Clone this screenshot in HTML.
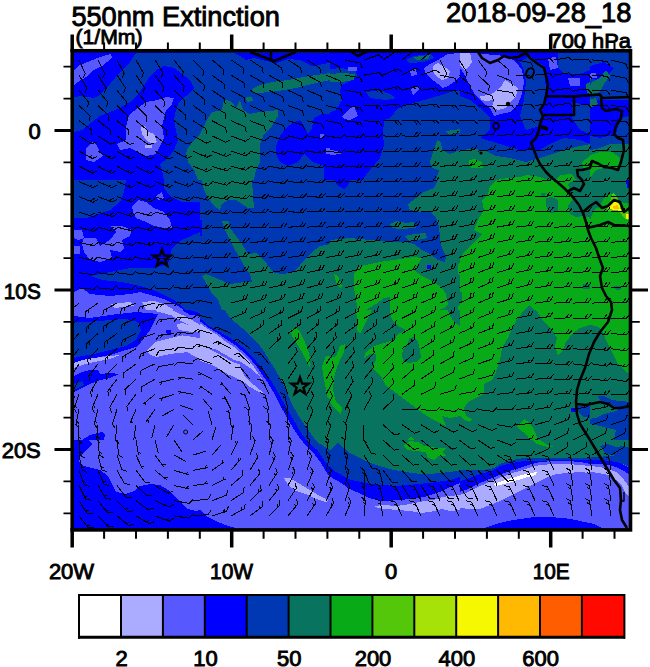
<!DOCTYPE html>
<html><head><meta charset="utf-8"><title>550nm Extinction</title>
<style>
html,body{margin:0;padding:0;background:#fff;}
body{width:650px;height:667px;overflow:hidden;}
svg{display:block;}
text{font-family:"Liberation Sans",sans-serif;fill:#000;stroke:#000;stroke-width:0.9px;}
</style></head><body>
<svg width="650" height="667" viewBox="0 0 650 667">
<rect width="650" height="667" fill="#fff"/>
<defs><clipPath id="mapclip"><rect x="72.2" y="50.75" width="558.3" height="478.85"/></clipPath></defs>
<g clip-path="url(#mapclip)" shape-rendering="crispEdges">
<rect x="70" y="48" width="565" height="485" fill="#0000ff"/>
<clipPath id="t0"><rect x="70" y="50" width="130" height="130"/></clipPath>
<g clip-path="url(#t0)">
<rect x="70" y="50" width="130" height="130" fill="#0000ff"/>
<polygon points="74.0,97.0 82.0,96.0 94.0,98.0 100.0,95.0 110.0,84.0 120.0,72.0 130.0,62.0 136.0,53.0 200.0,53.0 200.0,92.0 194.0,88.0 190.0,80.0 182.0,74.0 174.0,68.0 164.0,66.0 156.0,70.0 150.0,76.0 144.0,86.0 138.0,94.0 130.0,102.0 120.0,108.0 110.0,112.0 100.0,116.0 92.0,122.0 82.0,130.0 74.0,132.0" fill="#0038b4"/>
<polygon points="176.0,110.0 179.0,102.0 186.0,96.0 194.0,88.0 200.0,90.0 200.0,180.0 164.0,180.0 162.0,170.0 160.0,164.0 168.0,158.0 174.0,150.0 178.0,140.0 176.0,130.0 174.0,120.0" fill="#0038b4"/>
<polygon points="130.0,114.0 138.0,108.0 146.0,102.0 158.0,100.0 166.0,97.0 174.0,98.0 172.0,104.0 166.0,110.0 164.0,118.0 162.0,126.0 164.0,138.0 160.0,146.0 156.0,154.0 146.0,156.0 138.0,152.0 130.0,148.0 120.0,150.0 117.0,144.0 126.0,140.0 126.0,130.0 127.0,120.0" fill="#5858ff"/>
<polygon points="86.0,148.0 92.0,142.0 96.0,144.0 100.0,152.0 103.0,156.0 94.0,162.0 86.0,160.0" fill="#5858ff"/>
<polygon points="74.0,70.0 80.0,65.0 90.0,61.0 100.0,57.0 111.0,54.0 112.0,58.0 102.0,66.0 92.0,71.0 86.0,77.0 78.0,82.0 74.0,85.0" fill="#5858ff"/>
<polygon points="141.0,127.0 145.0,126.0 148.0,132.0 154.0,134.0 157.0,142.0 152.0,144.0 146.0,140.0 142.0,134.0" fill="#ababff"/>
<polygon points="145.0,145.0 152.0,145.0 152.0,148.0 145.0,148.0" fill="#ababff"/>
<polygon points="200.0,134.0 194.0,140.0 188.0,148.0 186.0,154.0 188.0,162.0 194.0,170.0 198.0,180.0 200.0,180.0" fill="#08745f"/>
</g>
<clipPath id="t1"><rect x="200" y="50" width="130" height="130"/></clipPath>
<g clip-path="url(#t1)">
<rect x="200" y="50" width="130" height="130" fill="#0038b4"/>
<polygon points="200.0,134.0 204.0,126.0 208.0,118.0 212.0,112.0 222.0,110.0 224.0,99.0 232.0,102.0 236.0,108.0 240.0,100.0 243.0,110.0 250.0,114.0 260.0,112.0 278.0,110.0 278.0,116.0 272.0,126.0 264.0,134.0 260.0,144.0 260.0,162.0 256.0,170.0 254.0,180.0 200.0,180.0" fill="#08745f"/>
<polygon points="252.0,89.0 260.0,85.0 272.0,82.0 288.0,80.0 304.0,77.0 316.0,75.0 330.0,73.0 330.0,80.0 320.0,82.0 308.0,85.0 296.0,88.0 284.0,90.0 270.0,92.0 258.0,93.0 252.0,92.0" fill="#08745f"/>
<polygon points="246.0,97.0 252.0,97.0 253.0,101.0 247.0,102.0" fill="#08745f"/>
<polygon points="276.0,146.0 280.0,136.0 286.0,128.0 294.0,122.0 300.0,120.0 304.0,126.0 308.0,134.0 312.0,128.0 314.0,118.0 322.0,114.0 330.0,114.0 330.0,180.0 324.0,180.0 324.0,166.0 312.0,162.0 304.0,154.0 298.0,162.0 288.0,166.0 280.0,162.0 276.0,154.0" fill="#0000ff"/>
<polygon points="234.0,53.0 330.0,53.0 330.0,62.0 324.0,64.0 312.0,66.0 300.0,60.0 288.0,59.0 276.0,63.0 266.0,61.0 254.0,58.0 246.0,60.0 240.0,56.0" fill="#0000ff"/>
<polygon points="320.0,134.0 324.0,134.0 324.0,138.0 320.0,138.0" fill="#5858ff"/>
<polygon points="326.0,148.0 330.0,148.0 330.0,154.0 326.0,154.0" fill="#5858ff"/>
</g>
<clipPath id="t2"><rect x="330" y="50" width="130" height="130"/></clipPath>
<g clip-path="url(#t2)">
<rect x="330" y="50" width="130" height="130" fill="#0000ff"/>
<polygon points="384.0,120.0 390.0,118.0 398.0,108.0 410.0,104.0 424.0,100.0 438.0,96.0 450.0,92.0 460.0,90.0 460.0,180.0 362.0,180.0 370.0,170.0 380.0,158.0 384.0,146.0 383.0,134.0" fill="#0038b4"/>
<polygon points="330.0,69.0 342.0,68.0 356.0,71.0 357.0,77.0 350.0,81.0 342.0,85.0 340.0,90.0 342.0,100.0 336.0,110.0 330.0,112.0" fill="#0038b4"/>
<polygon points="330.0,74.0 342.0,73.0 355.0,74.0 354.0,80.0 342.0,82.0 330.0,82.0" fill="#08745f"/>
<polygon points="366.0,92.0 380.0,90.0 390.0,94.0 396.0,98.0 386.0,100.0 370.0,98.0" fill="#0038b4"/>
<polygon points="406.0,60.0 414.0,56.0 430.0,54.0 434.0,58.0 424.0,62.0 410.0,63.0" fill="#0038b4"/>
<polygon points="414.0,57.0 430.0,55.0 428.0,59.0 416.0,60.0" fill="#08745f"/>
<polygon points="424.0,68.0 430.0,64.0 438.0,60.0 448.0,54.0 460.0,53.0 460.0,76.0 454.0,82.0 448.0,86.0 442.0,88.0 438.0,84.0 430.0,78.0 426.0,74.0" fill="#5858ff"/>
<polygon points="433.0,66.0 438.0,63.0 446.0,68.0 450.0,72.0 448.0,78.0 442.0,80.0 436.0,76.0 433.0,71.0" fill="#ababff"/>
<polygon points="342.0,116.0 348.0,110.0 354.0,106.0 358.0,116.0 350.0,120.0 344.0,119.0" fill="#5858ff"/>
<polygon points="348.0,67.0 357.0,67.0 357.0,71.0 348.0,71.0" fill="#5858ff"/>
<polygon points="410.0,70.0 416.0,69.0 417.0,75.0 411.0,76.0" fill="#5858ff"/>
<polygon points="411.0,89.0 418.0,86.0 419.0,90.0 413.0,95.0" fill="#5858ff"/>
<polygon points="330.0,150.0 338.0,151.0 342.0,154.0 330.0,155.0" fill="#5858ff"/>
<polygon points="430.0,162.0 434.0,150.0 437.0,140.0 441.0,142.0 442.0,150.0 450.0,154.0 460.0,150.0 460.0,180.0 436.0,180.0 439.0,170.0 432.0,168.0" fill="#08745f"/>
<polygon points="446.0,131.0 460.0,129.0 460.0,133.0 448.0,134.0" fill="#08745f"/>
</g>
<clipPath id="t3"><rect x="460" y="50" width="130" height="130"/></clipPath>
<g clip-path="url(#t3)">
<rect x="460" y="50" width="130" height="130" fill="#0000ff"/>
<polygon points="520.0,62.0 530.0,56.0 544.0,66.0 546.0,90.0 542.0,110.0 540.0,126.0 526.0,130.0 520.0,116.0 524.0,100.0 526.0,82.0 524.0,70.0" fill="#0038b4"/>
<polygon points="460.0,96.0 470.0,100.0 480.0,108.0 490.0,118.0 490.0,130.0 480.0,138.0 460.0,138.0" fill="#0038b4"/>
<polygon points="460.0,138.0 480.0,138.0 500.0,144.0 520.0,150.0 540.0,150.0 550.0,144.0 564.0,138.0 580.0,140.0 590.0,144.0 590.0,162.0 460.0,162.0" fill="#0038b4"/>
<polygon points="558.0,53.0 590.0,53.0 590.0,70.0 580.0,74.0 564.0,74.0 558.0,68.0" fill="#0038b4"/>
<polygon points="572.0,102.0 590.0,106.0 590.0,134.0 580.0,130.0 572.0,118.0" fill="#0038b4"/>
<polygon points="460.0,53.0 472.0,53.0 506.0,56.0 516.0,62.0 522.0,70.0 524.0,82.0 522.0,94.0 518.0,104.0 510.0,112.0 500.0,114.0 494.0,116.0 490.0,108.0 482.0,102.0 476.0,96.0 470.0,86.0 464.0,74.0 460.0,68.0" fill="#5858ff"/>
<polygon points="480.0,96.0 490.0,95.0 500.0,88.0 505.0,80.0 512.0,84.0 518.0,88.0 516.0,96.0 510.0,102.0 506.0,108.0 498.0,110.0 492.0,107.0 494.0,100.0 486.0,101.0 481.0,100.0" fill="#ababff"/>
<polygon points="460.0,53.0 470.0,53.0 472.0,62.0 468.0,68.0 464.0,70.0 460.0,66.0" fill="#ababff"/>
<polygon points="548.0,58.0 556.0,57.0 558.0,68.0 550.0,70.0" fill="#5858ff"/>
<polygon points="568.0,78.0 580.0,78.0 580.0,86.0 570.0,86.0" fill="#5858ff"/>
<polygon points="460.0,150.0 472.0,149.0 484.0,150.0 496.0,156.0 510.0,158.0 526.0,162.0 540.0,158.0 552.0,154.0 564.0,150.0 580.0,146.0 590.0,144.0 590.0,180.0 460.0,180.0" fill="#08745f"/>
<polygon points="586.0,84.0 590.0,82.0 590.0,94.0 587.0,93.0" fill="#08745f"/>
<polygon points="469.0,160.0 475.0,159.0 482.0,162.0 483.0,168.0 472.0,168.4 469.0,166.0" fill="#09aa18"/>
<polygon points="498.0,180.0 500.0,179.0 520.0,177.0 526.0,175.0 540.0,177.0 548.0,180.0" fill="#09aa18"/>
<polygon points="582.0,162.0 590.0,156.0 590.0,168.0 584.0,170.0" fill="#09aa18"/>
<polygon points="556.0,180.0 560.0,175.0 572.0,174.0 576.0,180.0" fill="#09aa18"/>
</g>
<clipPath id="t4"><rect x="590" y="50" width="45" height="130"/></clipPath>
<g clip-path="url(#t4)">
<rect x="590" y="50" width="45" height="130" fill="#0038b4"/>
<polygon points="590.0,66.0 604.0,62.0 614.0,68.0 606.0,76.0 596.0,80.0 590.0,78.0" fill="#0000ff"/>
<polygon points="590.0,100.0 629.0,100.0 629.0,116.0 620.0,118.0 616.0,134.0 600.0,138.0 590.0,136.0" fill="#0000ff"/>
<polygon points="588.0,90.0 592.0,82.0 600.0,78.0 606.0,70.0 610.0,76.0 604.0,84.0 600.0,92.0 592.0,94.0" fill="#08745f"/>
<polygon points="588.0,100.0 596.0,98.0 598.0,104.0 590.0,108.0" fill="#08745f"/>
<polygon points="590.0,150.0 600.0,148.0 610.0,144.0 632.0,144.0 632.0,180.0 590.0,180.0" fill="#08745f"/>
<polygon points="582.0,164.0 588.0,156.0 600.0,152.0 612.0,152.0 620.0,158.0 620.0,166.0 614.0,170.0 604.0,168.0 596.0,170.0 590.0,178.0 584.0,180.0 580.0,174.0" fill="#09aa18"/>
<polygon points="586.0,74.0 596.0,73.0 597.0,78.0 587.0,79.0" fill="#5858ff"/>
</g>
<clipPath id="t5"><rect x="70" y="180" width="130" height="130"/></clipPath>
<g clip-path="url(#t5)">
<rect x="70" y="180" width="130" height="130" fill="#0000ff"/>
<polygon points="74.0,180.0 126.0,180.0 124.0,192.0 120.0,202.0 110.0,210.0 98.0,214.0 86.0,218.0 74.0,218.0" fill="#0038b4"/>
<polygon points="164.0,180.0 200.0,180.0 200.0,202.0 182.0,202.0 170.0,196.0 164.0,188.0" fill="#0038b4"/>
<polygon points="200.0,232.0 182.0,240.0 172.0,248.0 168.0,264.0 154.0,268.0 130.0,268.0 110.0,272.0 90.0,276.0 102.0,280.0 122.0,282.0 140.0,286.0 158.0,292.0 174.0,300.0 186.0,310.0 200.0,310.0" fill="#0038b4"/>
<polygon points="132.0,206.0 138.0,200.0 146.0,202.0 154.0,208.0 164.0,212.0 170.0,220.0 172.0,228.0 164.0,228.0 154.0,226.0 146.0,222.0 136.0,218.0 133.0,212.0" fill="#5858ff"/>
<polygon points="156.0,196.0 162.0,192.0 164.0,198.0 158.0,200.0" fill="#5858ff"/>
<polygon points="74.0,230.0 82.0,230.0 84.0,238.0 78.0,240.0 74.0,238.0" fill="#5858ff"/>
<polygon points="84.0,238.0 96.0,238.0 100.0,246.0 110.0,240.0 116.0,232.0 110.0,226.0 122.0,226.0 132.0,230.0 130.0,236.0 122.0,240.0 124.0,248.0 120.0,252.0 110.0,250.0 112.0,258.0 100.0,262.0 90.0,260.0 84.0,252.0 82.0,244.0" fill="#5858ff"/>
<polygon points="74.0,246.0 80.0,246.0 80.0,254.0 74.0,254.0" fill="#5858ff"/>
<polygon points="74.0,292.0 82.0,288.0 90.0,294.0 110.0,296.0 130.0,294.0 140.0,292.0 154.0,296.0 166.0,300.0 178.0,306.0 184.0,310.0 74.0,310.0" fill="#5858ff"/>
<polygon points="110.0,304.0 130.0,302.0 134.0,306.0 114.0,308.0" fill="#ababff"/>
<polygon points="142.0,302.0 154.0,301.0 166.0,305.0 174.0,310.0 146.0,310.0" fill="#ababff"/>
</g>
<clipPath id="t6"><rect x="200" y="180" width="130" height="130"/></clipPath>
<g clip-path="url(#t6)">
<rect x="200" y="180" width="130" height="130" fill="#0038b4"/>
<polygon points="202.0,180.0 252.0,180.0 253.0,196.0 254.0,208.0 248.0,208.0 242.0,204.0 236.0,200.0 228.0,200.0 222.0,204.0 220.0,210.0 214.0,206.0 208.0,198.0 204.0,190.0" fill="#08745f"/>
<polygon points="222.0,221.0 229.0,221.0 230.0,228.0 236.0,236.0 242.0,244.0 248.0,254.0 256.0,253.0 264.0,260.0 270.0,268.0 274.0,273.0 284.0,274.0 296.0,270.0 304.0,260.0 312.0,252.0 320.0,246.0 330.0,244.0 330.0,310.0 222.0,310.0 218.0,300.0 212.0,294.0 208.0,286.0 202.0,276.0 206.0,274.0 216.0,278.0 230.0,284.0 244.0,282.0 252.0,282.0 250.0,274.0 244.0,266.0 240.0,258.0 234.0,248.0 228.0,236.0 224.0,228.0" fill="#08745f"/>
<polygon points="200.0,220.0 202.0,220.0 202.0,236.0 200.0,236.0" fill="#0000ff"/>
</g>
<clipPath id="t7"><rect x="330" y="180" width="130" height="130"/></clipPath>
<g clip-path="url(#t7)">
<rect x="330" y="180" width="130" height="130" fill="#08745f"/>
<polygon points="330.0,180.0 438.0,180.0 434.0,188.0 424.0,192.0 416.0,198.0 408.0,204.0 410.0,210.0 420.0,212.0 430.0,212.0 436.0,218.0 439.0,226.0 440.0,238.0 442.0,248.0 446.0,256.0 445.0,262.0 438.0,260.0 430.0,254.0 422.0,250.0 414.0,244.0 406.0,242.0 396.0,242.0 370.0,240.0 350.0,238.0 330.0,240.0" fill="#0038b4"/>
<polygon points="390.0,224.0 396.0,221.0 406.0,223.0 414.0,222.0 416.0,228.0 400.0,229.0 392.0,228.0" fill="#08745f"/>
<polygon points="404.0,236.0 414.0,234.0 426.0,233.0 427.0,238.0 418.0,240.0 410.0,242.0" fill="#08745f"/>
<polygon points="334.0,180.0 350.0,180.0 348.0,186.0 344.0,189.0 338.0,186.0" fill="#0000ff"/>
<polygon points="354.0,274.0 360.0,266.0 380.0,262.0 400.0,259.0 414.0,257.0 422.0,258.0 418.0,264.0 414.0,270.0 422.0,276.0 434.0,282.0 442.0,288.0 446.0,294.0 448.0,304.0 444.0,308.0 438.0,310.0 390.0,310.0 390.0,297.0 384.0,298.0 376.0,304.0 366.0,310.0 358.0,310.0 356.0,300.0 354.0,288.0" fill="#09aa18"/>
<polygon points="334.0,274.0 338.0,276.0 342.0,286.0 341.0,289.0 336.0,282.0" fill="#09aa18"/>
<polygon points="458.0,264.0 460.0,262.0 460.0,276.0 458.0,274.0" fill="#09aa18"/>
<polygon points="458.0,306.0 460.0,305.0 460.0,310.0 458.0,310.0" fill="#09aa18"/>
<polygon points="427.0,265.0 431.0,265.0 431.0,269.0 427.0,269.0" fill="#0000ff"/>
</g>
<clipPath id="t8"><rect x="460" y="180" width="130" height="130"/></clipPath>
<g clip-path="url(#t8)">
<rect x="460" y="180" width="130" height="130" fill="#09aa18"/>
<polygon points="460.0,180.0 496.0,180.0 490.0,186.0 488.0,194.0 482.0,200.0 484.0,210.0 478.0,220.0 474.0,230.0 482.0,234.0 474.0,242.0 466.0,250.0 460.0,258.0" fill="#08745f"/>
<polygon points="546.0,198.0 552.0,197.0 558.0,200.0 558.0,212.0 550.0,213.0 546.0,206.0" fill="#08745f"/>
<polygon points="541.0,193.0 546.0,193.0 545.0,196.0 542.0,196.0" fill="#08745f"/>
<polygon points="568.0,184.0 574.0,180.0 590.0,180.0 590.0,218.0 584.0,216.0 576.0,217.0 570.0,214.0 568.0,206.0 572.0,200.0 570.0,192.0" fill="#08745f"/>
<polygon points="583.0,284.0 590.0,284.0 590.0,289.0 583.0,289.0" fill="#08745f"/>
<polygon points="524.0,310.0 529.0,305.0 534.0,310.0" fill="#08745f"/>
<polygon points="460.0,292.0 462.0,292.0 462.0,302.0 460.0,302.0" fill="#08745f"/>
</g>
<clipPath id="t9"><rect x="590" y="180" width="45" height="130"/></clipPath>
<g clip-path="url(#t9)">
<rect x="590" y="180" width="45" height="130" fill="#09aa18"/>
<polygon points="568.0,184.0 574.0,180.0 632.0,180.0 632.0,204.0 620.0,202.0 614.0,198.0 610.0,192.0 604.0,198.0 600.0,206.0 594.0,210.0 590.0,220.0 586.0,220.0 584.0,216.0 572.0,218.0 568.0,212.0 568.0,202.0" fill="#08745f"/>
<polygon points="606.0,206.0 610.0,202.0 613.0,192.0 616.0,196.0 620.0,202.0 626.0,210.0 632.0,214.0 632.0,222.0 624.0,218.0 620.0,212.0 612.0,212.0 607.0,210.0" fill="#54c70b"/>
<polygon points="608.0,207.0 612.0,203.0 616.0,200.0 620.0,206.0 621.0,211.0 614.0,210.0 609.0,209.0" fill="#f5f800"/>
<polygon points="626.0,214.0 632.0,214.0 632.0,220.0 626.0,219.0" fill="#f5f800"/>
<polygon points="613.0,206.0 618.0,205.0 619.0,209.0 614.0,209.0" fill="#ffb900"/>
<polygon points="626.0,180.0 632.0,180.0 632.0,189.0 627.0,188.0" fill="#0000ff"/>
<polygon points="614.0,286.0 622.0,286.0 620.0,290.0 616.0,290.0" fill="#08745f"/>
</g>
<clipPath id="t10"><rect x="70" y="310" width="130" height="130"/></clipPath>
<g clip-path="url(#t10)">
<rect x="70" y="310" width="130" height="130" fill="#5858ff"/>
<polygon points="74.0,316.0 90.0,318.0 110.0,315.0 136.0,312.0 158.0,314.0 154.0,322.0 150.0,330.0 144.0,338.0 138.0,346.0 126.0,350.0 110.0,355.0 94.0,358.0 82.0,360.0 74.0,363.0" fill="#0000ff"/>
<polygon points="74.0,322.0 90.0,322.0 110.0,320.0 126.0,319.0 138.0,322.0 141.0,330.0 136.0,340.0 126.0,346.0 110.0,350.0 94.0,354.0 82.0,356.0 74.0,358.0" fill="#0038b4"/>
<polygon points="74.0,363.0 82.0,360.0 94.0,358.0 110.0,356.0 120.0,355.0 110.0,359.0 94.0,362.0 82.0,365.0 74.0,368.0" fill="#ababff"/>
<polygon points="74.0,376.0 82.0,372.0 90.0,370.0 98.0,370.0 100.0,374.0 110.0,373.0 119.0,374.0 110.0,378.0 100.0,380.0 90.0,384.0 82.0,388.0 74.0,392.0" fill="#0000ff"/>
<polygon points="74.0,384.0 82.0,381.0 84.0,385.0 78.0,388.0 74.0,390.0" fill="#0038b4"/>
<polygon points="147.0,350.8 156.2,341.6 174.6,337.0 182.2,335.4 193.0,337.0 200.0,338.4 200.0,360.0 196.2,357.0 187.0,352.2 171.6,353.8 156.2,357.0 150.0,355.0" fill="#ababff"/>
<polygon points="176.2,324.6 182.2,323.0 190.0,325.6 200.0,330.0 200.0,332.4 190.0,331.6 179.0,330.0" fill="#ababff"/>
<polygon points="166.0,330.0 171.0,330.0 171.0,335.0 167.0,335.0" fill="#0000ff"/>
<polygon points="155.0,310.0 171.6,310.0 187.0,317.0 200.0,325.0 200.0,332.0 196.2,329.2 182.2,321.6 171.6,315.4 156.2,311.2" fill="#ababff"/>
<polygon points="182.0,310.0 200.0,310.0 200.0,316.0 190.0,315.0" fill="#0000ff"/>
<polygon points="188.0,310.0 200.0,310.0 200.0,313.4 194.0,311.0" fill="#0038b4"/>
<polygon points="82.0,440.0 90.0,435.0 102.0,432.0 105.0,435.0 104.0,440.0" fill="#0000ff"/>
</g>
<clipPath id="t11"><rect x="200" y="310" width="130" height="130"/></clipPath>
<g clip-path="url(#t11)">
<rect x="200" y="310" width="130" height="130" fill="#08745f"/>
<polygon points="222.7,305.0 226.8,313.3 231.0,318.8 239.3,325.8 247.6,332.7 255.9,341.0 262.8,349.3 268.4,359.0 273.9,367.3 279.5,377.0 281.4,380.4 286.4,391.0 291.8,403.6 298.6,416.0 307.0,428.4 315.2,439.6 324.8,449.2 200.0,449.2 194.0,305.0" fill="#0038b4"/>
<polygon points="195.0,313.3 200.5,318.8 208.8,325.8 218.5,331.3 228.2,336.8 236.5,342.4 244.8,349.3 253.2,357.6 260.1,365.9 266.0,373.6 272.0,382.0 278.0,392.4 285.0,405.0 292.0,417.4 300.0,431.2 309.0,443.6 312.0,450.0 194.0,450.0" fill="#0000ff"/>
<polygon points="195.0,318.2 200.5,321.6 208.8,327.8 217.2,332.7 226.8,339.6 235.2,345.2 243.5,352.1 250.4,359.0 257.3,367.3 262.8,375.6 268.0,383.0 273.6,392.4 280.0,405.0 287.6,418.8 296.0,432.6 304.4,445.0 308.0,450.0 194.0,450.0" fill="#5858ff"/>
<polygon points="195.0,320.9 200.5,323.7 208.8,329.6 217.2,334.8 225.5,341.3 233.8,346.8 242.1,353.7 249.0,360.7 254.5,367.6 260.1,375.9 265.6,385.6 269.2,388.4 268.0,393.0 263.6,394.8 257.0,391.0 250.0,387.0 244.2,382.4 239.6,379.6 235.0,377.6 228.2,374.4 219.9,369.4 211.6,364.6 203.3,361.8 195.0,360.0" fill="#ababff"/>
<polygon points="208.8,348.0 214.2,348.8 220.4,351.9 227.3,355.8 233.5,359.6 239.6,361.6 238.8,364.0 231.9,361.6 225.8,358.0 219.6,354.4 214.2,351.5 210.4,350.0" fill="#5858ff"/>
<polygon points="238.8,360.8 245.0,364.6 250.4,368.4 255.0,372.4 259.6,376.2 262.7,380.8 265.8,384.6 268.8,387.3 271.2,390.0 272.0,395.0 267.0,396.0 263.8,394.6 261.9,391.5 258.1,388.5 253.5,384.6 248.8,380.8 244.2,375.4 241.2,368.5 238.8,362.3" fill="#5858ff"/>
<polygon points="290.0,330.0 296.0,328.0 300.0,332.0 304.0,340.0 308.0,350.0 310.0,358.0 310.0,368.0 307.0,362.0 302.0,352.0 296.0,342.0 292.0,336.0" fill="#09aa18"/>
<polygon points="322.0,366.0 326.0,356.0 330.0,356.0 330.0,400.0 327.0,396.0 325.0,384.0 323.0,374.0" fill="#09aa18"/>
</g>
<clipPath id="t12"><rect x="330" y="310" width="130" height="130"/></clipPath>
<g clip-path="url(#t12)">
<rect x="330" y="310" width="130" height="130" fill="#08745f"/>
<polygon points="390.0,310.0 448.0,310.0 450.0,316.0 454.0,322.0 460.0,326.0 460.0,416.0 450.0,418.0 442.0,416.0 446.0,426.0 442.0,424.0 432.0,419.0 424.0,414.0 416.0,408.0 408.0,402.0 400.0,396.0 392.0,390.0 386.0,386.0 382.0,378.0 376.0,372.0 372.0,368.0 376.0,360.0 376.0,354.0 370.0,354.0 364.0,358.0 366.0,352.0 374.0,346.0 384.0,343.0 394.0,340.0 398.0,334.0 406.0,330.0 398.0,326.0 392.0,320.0" fill="#09aa18"/>
<polygon points="402.0,354.0 404.0,348.0 408.0,344.0 409.0,338.0 414.0,337.0 418.0,342.0 420.0,350.0 421.0,358.0 416.0,362.0 408.0,363.0 403.0,361.0" fill="#08745f"/>
<polygon points="356.0,310.0 372.0,310.0 368.0,318.0 364.0,326.0 360.0,334.0 357.0,330.0 357.0,320.0" fill="#09aa18"/>
<polygon points="330.0,358.0 336.0,356.0 340.0,346.0 345.0,344.0 344.0,352.0 340.0,360.0 336.0,370.0 334.0,378.0 333.0,390.0 336.0,402.0 342.0,408.0 341.0,414.0 334.0,408.0 330.0,402.0" fill="#09aa18"/>
<polygon points="408.0,440.0 411.0,436.0 414.0,440.0" fill="#09aa18"/>
</g>
<clipPath id="t13"><rect x="460" y="310" width="130" height="130"/></clipPath>
<g clip-path="url(#t13)">
<rect x="460" y="310" width="130" height="130" fill="#08745f"/>
<polygon points="460.0,310.0 524.0,310.0 518.0,318.0 512.0,328.0 508.0,338.0 502.0,348.0 500.0,360.0 496.0,372.0 492.0,380.0 484.0,384.0 484.0,394.0 476.0,398.0 468.0,402.0 464.0,408.0 466.0,416.0 472.0,419.0 470.0,422.0 464.0,420.0 460.0,416.0" fill="#09aa18"/>
<polygon points="536.0,310.0 590.0,310.0 590.0,325.0 580.0,328.0 572.0,334.0 566.0,342.0 562.0,352.0 558.0,355.0 555.0,346.0 557.0,338.0 552.0,330.0 544.0,322.0 540.0,316.0" fill="#09aa18"/>
<polygon points="517.0,426.0 524.0,419.0 529.0,422.0 533.0,428.0 536.0,434.0 538.0,440.0 530.0,440.0 526.0,434.0 520.0,430.0" fill="#09aa18"/>
<polygon points="571.0,408.0 576.0,408.0 576.0,412.0 571.0,412.0" fill="#0000ff"/>
<polygon points="578.0,406.0 590.0,406.0 590.0,418.0 584.0,417.0 580.0,414.0 578.0,410.0" fill="#0038b4"/>
</g>
<clipPath id="t14"><rect x="590" y="310" width="45" height="130"/></clipPath>
<g clip-path="url(#t14)">
<rect x="590" y="310" width="45" height="130" fill="#08745f"/>
<polygon points="590.0,310.0 632.0,310.0 632.0,376.0 624.0,370.0 618.0,364.0 614.0,356.0 610.0,348.0 606.0,340.0 604.0,334.0 600.0,328.0 596.0,326.0 590.0,325.0" fill="#09aa18"/>
<polygon points="598.0,396.0 604.0,396.0 612.0,400.0 620.0,401.0 632.0,402.0 632.0,440.0 614.0,440.0 616.0,430.0 608.0,428.0 600.0,426.0 590.0,424.0 588.0,419.0 596.0,418.0 604.0,414.0 612.0,412.0 618.0,410.0 614.0,406.0 606.0,403.0 600.0,400.0" fill="#0038b4"/>
</g>
<clipPath id="t15"><rect x="70" y="440" width="130" height="95"/></clipPath>
<g clip-path="url(#t15)">
<rect x="70" y="440" width="130" height="95" fill="#5858ff"/>
<polygon points="74.0,440.0 88.0,440.0 92.0,444.0 86.0,450.0 80.0,456.0 79.0,462.0 84.0,466.0 92.0,468.0 100.0,470.0 108.0,476.0 112.0,484.0 116.0,492.0 126.0,494.0 134.0,491.0 140.0,486.0 150.0,484.0 160.0,485.0 168.0,490.0 176.0,498.0 182.0,504.0 188.0,509.0 196.0,511.0 200.0,510.0 200.0,532.0 74.0,532.0" fill="#0000ff"/>
</g>
<clipPath id="t16"><rect x="200" y="440" width="130" height="95"/></clipPath>
<g clip-path="url(#t16)">
<rect x="200" y="440" width="130" height="95" fill="#5858ff"/>
<polygon points="200.0,510.0 208.0,517.0 218.0,522.0 228.0,526.0 236.0,528.0 236.0,532.0 200.0,532.0" fill="#0000ff"/>
<polygon points="301.6,440.0 330.0,440.0 330.0,477.0 325.0,470.0 320.0,461.6 313.0,452.4 306.0,446.0" fill="#0000ff"/>
<polygon points="307.2,440.0 330.0,440.0 330.0,468.0 324.0,460.0 317.6,450.4 311.2,445.0" fill="#0038b4"/>
<polygon points="315.6,440.0 330.0,440.0 330.0,450.4 326.0,447.6 319.6,443.6" fill="#08745f"/>
<polygon points="284.0,478.0 290.0,478.0 300.0,484.0 310.0,490.0 320.0,496.0 328.0,500.0 326.0,502.0 316.0,499.0 306.0,494.0 296.0,491.0 288.0,485.0" fill="#ababff"/>
</g>
<clipPath id="t17"><rect x="330" y="440" width="130" height="95"/></clipPath>
<g clip-path="url(#t17)">
<rect x="330" y="440" width="130" height="95" fill="#5858ff"/>
<polygon points="330.0,440.0 460.0,440.0 460.0,483.0 450.0,487.0 442.0,491.0 434.0,494.0 424.0,497.0 410.0,499.0 396.0,500.4 382.0,501.0 370.0,498.4 360.0,493.6 350.0,489.0 338.0,481.0 330.0,476.6" fill="#0000ff"/>
<polygon points="330.0,440.0 460.0,440.0 460.0,477.0 450.0,480.0 434.0,482.4 418.0,484.0 402.0,485.6 390.0,485.6 370.0,484.0 350.0,479.6 336.0,472.0 330.0,467.0" fill="#0038b4"/>
<polygon points="330.0,440.0 460.0,440.0 460.0,470.4 450.0,472.0 434.0,473.6 418.0,473.6 402.0,471.6 390.0,469.0 376.0,465.0 364.0,460.0 350.0,453.0 338.0,443.0 330.0,450.0" fill="#08745f"/>
<polygon points="374.0,506.0 384.0,505.0 396.0,506.0 410.0,504.0 424.0,501.0 434.0,500.0 442.0,497.0 450.0,496.0 460.0,495.0 460.0,510.0 450.0,511.0 442.0,509.0 430.0,512.0 420.0,513.0 410.0,511.0 398.0,510.0 386.0,509.0 378.0,508.0" fill="#ababff"/>
<polygon points="403.0,446.0 410.0,441.0 418.0,442.0 424.0,446.0 438.0,448.0 446.0,448.0 442.0,452.0 446.0,456.0 438.0,456.0 434.0,460.0 428.0,458.0 426.0,452.0 416.0,451.0 408.0,450.0" fill="#09aa18"/>
</g>
<clipPath id="t18"><rect x="460" y="440" width="130" height="95"/></clipPath>
<g clip-path="url(#t18)">
<rect x="460" y="440" width="130" height="95" fill="#5858ff"/>
<polygon points="460.0,440.0 590.0,440.0 590.0,464.0 580.0,462.0 568.0,461.0 554.0,461.0 540.0,462.0 528.0,465.0 516.0,469.0 504.0,473.0 492.0,478.0 480.0,483.0 468.0,489.0 460.0,492.0" fill="#0000ff"/>
<polygon points="460.0,440.0 590.0,440.0 590.0,460.0 560.0,460.0 540.0,461.0 524.0,461.0 512.0,463.0 500.0,466.0 492.0,471.0 480.0,474.0 470.0,478.0 460.0,481.0" fill="#0038b4"/>
<polygon points="460.0,440.0 590.0,440.0 590.0,457.6 560.0,458.0 540.0,458.0 524.0,458.0 512.0,460.0 500.0,464.0 494.0,468.0 484.0,470.0 472.0,470.0 460.0,470.0" fill="#08745f"/>
<polygon points="532.0,440.0 540.0,440.0 546.0,444.0 554.0,447.0 548.0,447.0 540.0,445.0 535.0,443.0" fill="#09aa18"/>
<polygon points="460.0,495.0 468.0,492.0 480.0,486.0 492.0,481.0 504.0,476.0 516.0,472.0 528.0,468.0 540.0,465.0 554.0,464.0 568.0,464.0 580.0,465.0 590.0,466.0 590.0,473.0 580.0,472.0 568.0,473.0 556.0,474.0 548.0,477.0 540.0,481.0 532.0,485.0 520.0,491.0 510.0,496.0 500.0,501.0 490.0,505.0 480.0,509.0 470.0,509.0 460.0,508.0" fill="#ababff"/>
<polygon points="494.0,484.0 502.0,481.0 512.0,478.0 522.0,475.0 530.0,473.0 537.0,472.0 536.0,475.0 528.0,477.0 518.0,480.0 508.0,483.0 500.0,485.0 495.0,486.0" fill="#ffffff"/>
<polygon points="484.0,528.0 496.0,524.0 508.0,521.0 520.0,519.0 534.0,517.0 548.0,517.0 564.0,518.0 576.0,520.0 584.0,522.0 590.0,523.0 590.0,532.0 484.0,532.0" fill="#0000ff"/>
</g>
<clipPath id="t19"><rect x="590" y="440" width="45" height="95"/></clipPath>
<g clip-path="url(#t19)">
<rect x="590" y="440" width="45" height="95" fill="#5858ff"/>
<polygon points="590.0,440.0 632.0,440.0 632.0,456.0 620.0,457.0 610.0,457.0 600.0,457.0 590.0,457.6" fill="#08745f"/>
<polygon points="590.0,457.6 632.0,454.0 632.0,468.0 620.0,463.0 610.0,461.0 600.0,460.0 590.0,460.0" fill="#0038b4"/>
<polygon points="600.0,446.0 608.0,444.0 616.0,447.0 624.0,446.0 632.0,449.0 632.0,456.0 616.0,456.0 606.0,454.0" fill="#0038b4"/>
<polygon points="590.0,460.0 600.0,460.0 610.0,461.0 620.0,463.0 632.0,469.0 632.0,476.0 624.0,471.0 616.0,467.0 608.0,465.0 600.0,463.6 590.0,463.6" fill="#0000ff"/>
<polygon points="590.0,466.0 600.0,467.0 608.0,469.0 616.0,472.0 622.0,477.0 627.0,484.0 632.0,490.0 632.0,500.0 626.0,494.0 622.0,486.0 616.0,480.0 610.0,476.0 604.0,474.0 596.0,472.6 590.0,472.0" fill="#ababff"/>
<polygon points="590.0,523.0 596.0,525.0 602.0,528.0 602.0,532.0 590.0,532.0" fill="#0000ff"/>
</g>
</g>
<path d="M79.0 59.9L85.3 73.7l-2.5 4.7M79.0 75.1L86.9 88.1l-1.9 5.0M79.0 90.3L88.6 102.1l-1.2 5.2M79.0 105.5L90.1 115.8l-0.4 5.3M79.0 120.7L91.3 129.6l0.2 5.3M79.0 135.9L91.9 143.9l5.0 -1.8M79.0 151.1L92.3 158.5l4.9 -2.1M89.3 156.8l2.9 -1.2M79.0 166.3L92.6 173.1l4.8 -2.3M89.5 171.6l2.9 -1.4M79.0 181.5L92.9 187.7l4.7 -2.5M89.8 186.3l2.8 -1.5M79.0 196.7L93.1 202.3l4.6 -2.7M90.0 201.1l4.6 -2.7M79.0 211.9L93.4 216.9l4.5 -2.9M90.1 215.8l4.5 -2.9M79.0 227.1L93.6 231.4l4.3 -3.1M90.3 230.5l4.3 -3.1M79.0 242.3L93.8 245.9l4.2 -3.3M90.5 245.1l2.5 -2.0M79.0 257.5L93.9 260.4l4.0 -3.5M90.6 259.7l2.4 -2.1M79.0 272.7L94.0 274.8l3.8 -3.7M79.0 287.9L94.1 289.3l3.6 -3.9M79.0 303.1L67.3 312.8l0.2 5.3M69.9 310.6l0.1 3.2M79.0 318.3L67.9 328.7l0.5 5.3M70.4 326.4l0.3 3.2M79.0 333.5L68.7 344.7l0.9 5.2M71.0 342.2l0.5 3.2M79.0 348.7L69.7 360.7l1.3 5.1M71.8 358.0l0.8 3.1M79.0 363.9L70.8 376.7l1.8 5.0M72.7 373.9l1.1 3.0M79.0 379.1L72.3 392.7l2.3 4.8M73.8 389.7l1.4 2.9M79.0 394.3L73.9 408.6l2.9 4.5M75.1 405.4l1.7 2.7M79.0 409.5L75.9 424.4l3.4 4.1M76.6 421.0l2.1 2.4M79.0 424.7L78.0 439.9l3.9 3.5M78.2 436.5l2.4 2.1M79.0 439.9L80.1 455.1l4.4 2.9M79.9 451.7l2.7 1.8M79.0 455.1L82.2 470.0l4.8 2.3M81.5 466.6l2.9 1.4M79.0 470.3L84.1 484.6l5.0 1.7M83.0 481.4l3.0 1.0M79.0 485.5L85.8 499.1l5.2 1.1M84.3 496.1l3.1 0.6M79.0 500.7L87.2 513.5l5.3 0.5M85.4 510.6l3.2 0.3M79.0 515.9L88.4 527.9l5.3 -0.0M86.3 525.2l3.2 -0.0M98.0 59.9L104.7 73.5l-2.3 4.8M98.0 75.1L106.2 87.9l-1.8 5.0M98.0 90.3L107.7 102.0l-1.1 5.2M98.0 105.5L109.0 116.0l-0.5 5.3M98.0 120.7L110.1 129.9l0.1 5.3M98.0 135.9L110.8 144.1l5.0 -1.7M98.0 151.1L111.2 158.7l4.9 -2.0M108.2 157.0l3.0 -1.2M98.0 166.3L111.6 173.2l4.8 -2.2M108.5 171.6l2.9 -1.4M98.0 181.5L111.9 187.7l4.7 -2.5M108.8 186.3l2.8 -1.5M98.0 196.7L112.2 202.1l4.5 -2.7M109.0 200.9l4.5 -2.7M98.0 211.9L112.5 216.6l4.4 -3.0M109.2 215.6l4.4 -3.0M98.0 227.1L112.6 231.2l4.3 -3.1M109.4 230.3l4.3 -3.1M98.0 242.3L112.8 245.7l4.1 -3.3M109.5 245.0l2.5 -2.0M98.0 257.5L113.0 260.2l4.0 -3.5M109.6 259.6l2.4 -2.1M98.0 272.7L113.1 274.8l3.8 -3.7M98.0 287.9L113.1 289.3l3.6 -3.9M98.0 303.1L85.4 311.7l-0.3 5.3M88.3 309.8l-0.2 3.2M98.0 318.3L86.0 327.6l-0.0 5.3M88.7 325.5l-0.0 3.2M98.0 333.5L86.7 343.6l0.3 5.3M89.2 341.4l0.2 3.2M98.0 348.7L87.6 359.7l0.8 5.2M89.9 357.3l0.5 3.2M98.0 363.9L88.7 375.9l1.3 5.1M90.8 373.2l0.8 3.1M98.0 379.1L90.2 392.1l1.9 4.9M91.9 389.2l1.1 3.0M98.0 394.3L92.0 408.3l2.6 4.6M93.4 405.1l1.5 2.8M98.0 409.5L94.2 424.2l3.2 4.2M95.1 420.9l2.0 2.5M98.0 424.7L96.7 439.8l3.9 3.6M97.0 436.5l2.4 2.2M98.0 439.9L99.4 455.0l4.5 2.9M99.1 451.7l2.7 1.7M98.0 455.1L101.9 469.8l4.9 2.1M101.0 466.5l2.9 1.3M98.0 470.3L104.1 484.2l5.1 1.3M102.7 481.1l3.1 0.8M98.0 485.5L105.9 498.5l5.3 0.6M104.1 495.6l3.2 0.4M98.0 500.7L107.4 512.7l5.3 0.0M105.3 510.0l3.2 0.0M98.0 515.9L108.5 526.9l5.3 -0.5M106.1 524.4l3.2 -0.3M117.0 59.9L124.1 73.3l-2.2 4.8M117.0 75.1L125.4 87.8l-1.7 5.0M117.0 90.3L126.7 102.0l-1.1 5.2M117.0 105.5L127.9 116.1l-0.6 5.3M117.0 120.7L128.9 130.1l-0.0 5.3M117.0 135.9L129.6 144.4l5.0 -1.6M117.0 151.1L130.1 158.9l4.9 -1.9M127.1 157.1l3.0 -1.2M117.0 166.3L130.5 173.2l4.8 -2.2M127.5 171.7l2.9 -1.3M117.0 181.5L130.9 187.6l4.7 -2.5M127.8 186.2l2.8 -1.5M117.0 196.7L131.3 201.9l4.5 -2.8M128.1 200.8l4.5 -2.8M117.0 211.9L131.5 216.3l4.3 -3.0M128.3 215.3l4.3 -3.0M117.0 227.1L131.7 230.9l4.2 -3.2M128.4 230.1l4.2 -3.2M117.0 242.3L131.9 245.5l4.1 -3.4M128.5 244.8l2.5 -2.0M117.0 257.5L132.0 260.1l3.9 -3.6M128.6 259.5l2.4 -2.1M117.0 272.7L132.1 274.7l3.8 -3.7M117.0 287.9L132.1 289.3l3.6 -3.9M117.0 303.1L103.6 310.3l-0.9 5.2M106.6 308.7l-0.5 3.2M117.0 318.3L104.0 326.2l-0.6 5.3M106.9 324.4l-0.4 3.2M117.0 333.5L104.6 342.2l-0.3 5.3M107.3 340.3l-0.2 3.2M117.0 348.7L105.3 358.4l0.2 5.3M107.9 356.2l0.1 3.2M117.0 363.9L106.3 374.7l0.7 5.3M108.7 372.3l0.4 3.2M117.0 379.1L107.8 391.2l1.3 5.1M109.8 388.5l0.8 3.1M117.0 394.3L109.7 407.6l2.1 4.9M117.0 409.5L112.3 424.0l3.0 4.4M117.0 424.7L115.4 439.8l3.8 3.7M117.0 439.9L118.7 455.0l4.5 2.8M117.0 455.1L121.8 469.5l5.0 1.8M117.0 470.3L124.4 483.6l5.2 0.8M117.0 485.5L126.3 497.5l5.3 0.0M124.2 494.8l3.2 0.0M117.0 500.7L127.7 511.5l5.3 -0.6M125.3 509.1l3.2 -0.4M117.0 515.9L128.7 525.6l5.2 -1.2M126.1 523.4l3.1 -0.7M136.0 59.9L143.5 73.1l-2.0 4.9M136.0 75.1L144.6 87.6l-1.6 5.1M136.0 90.3L145.8 102.0l-1.1 5.2M136.0 105.5L146.8 116.2l-0.6 5.3M136.0 120.7L147.7 130.4l-0.1 5.3M136.0 135.9L148.4 144.7l5.1 -1.5M136.0 151.1L149.0 159.0l5.0 -1.9M146.1 157.3l3.0 -1.1M136.0 166.3L149.5 173.3l4.8 -2.2M146.5 171.7l2.9 -1.3M136.0 181.5L150.0 187.5l4.6 -2.5M146.8 186.2l2.8 -1.5M136.0 196.7L150.3 201.7l4.5 -2.9M147.1 200.6l4.5 -2.9M136.0 211.9L150.6 216.0l4.3 -3.1M147.4 215.1l4.3 -3.1M136.0 227.1L150.8 230.7l4.2 -3.3M147.5 229.9l4.2 -3.3M136.0 242.3L150.9 245.3l4.0 -3.4M147.6 244.7l2.4 -2.1M136.0 257.5L151.0 260.0l3.9 -3.6M147.6 259.4l2.4 -2.2M136.0 272.7L151.1 274.6l3.8 -3.7M136.0 287.9L151.1 289.3l3.6 -3.9M136.0 303.1L121.8 308.6l-1.5 5.1M125.0 307.4l-0.9 3.1M136.0 318.3L122.1 324.4l-1.3 5.1M125.2 323.1l-0.8 3.1M136.0 333.5L122.4 340.4l-1.0 5.2M125.5 338.8l-0.6 3.1M136.0 348.7L123.0 356.5l-0.6 5.3M125.9 354.8l-0.4 3.2M136.0 363.9L123.7 372.9l-0.2 5.3M136.0 379.1L125.0 389.5l0.5 5.3M136.0 394.3L126.8 406.4l1.4 5.1M136.0 409.5L129.8 423.4M131.0 420.6l1.5 2.8M136.0 424.7L133.8 439.7M134.2 436.8l2.2 2.3M136.0 439.9L138.4 454.9M137.9 452.0l2.8 1.6M136.0 455.1L142.4 468.9M141.1 466.2l3.1 0.7M136.0 470.3L145.2 482.4l5.3 0.1M136.0 485.5L147.1 495.9l5.2 -0.8M136.0 500.7L148.3 509.6l5.1 -1.5M136.0 515.9L149.1 523.7l4.9 -1.9M146.1 521.9l3.0 -1.2M155.0 59.9L163.0 72.8l-1.8 5.0M155.0 75.1L164.0 87.4l-1.4 5.1M155.0 90.3L164.9 101.8l-1.0 5.2M155.0 105.5L165.9 116.1l-0.6 5.3M155.0 120.7L166.7 130.5l-0.2 5.3M155.0 135.9L167.3 144.8l5.1 -1.5M155.0 151.1L167.9 159.1l5.0 -1.8M165.0 157.3l3.0 -1.1M155.0 166.3L168.5 173.2l4.8 -2.2M165.5 171.7l2.9 -1.3M155.0 181.5L169.0 187.3l4.6 -2.6M165.9 186.0l2.8 -1.6M155.0 196.7L169.4 201.4l4.4 -2.9M166.2 200.4l4.4 -2.9M155.0 211.9L169.7 215.7l4.2 -3.2M166.4 214.8l4.2 -3.2M155.0 227.1L169.8 230.4l4.1 -3.4M166.5 229.7l4.1 -3.4M155.0 242.3L169.9 245.1l4.0 -3.5M166.6 244.5l2.4 -2.1M155.0 257.5L170.0 259.8l3.9 -3.6M166.7 259.3l2.3 -2.2M155.0 272.7L170.1 274.5l3.7 -3.8M155.0 287.9L170.1 289.2l3.6 -3.9M155.0 303.1L140.2 306.7l-2.2 4.8M143.5 305.9l-1.3 2.9M155.0 318.3L140.3 322.3l-2.0 4.9M143.6 321.4l-1.2 3.0M155.0 333.5L140.5 338.1l-1.9 5.0M143.7 337.0l-1.1 3.0M155.0 348.7L140.8 354.0l-1.6 5.1M143.9 352.8l-1.0 3.1M155.0 363.9L141.2 370.2l-1.2 5.2M155.0 379.1L141.9 386.8l-0.7 5.3M155.0 394.3L143.3 404.0M145.6 402.0l0.1 3.2M155.0 409.5L146.1 421.8M147.8 419.4l0.9 3.1M155.0 424.7L151.8 438.3M155.0 439.9L158.5 453.5M155.0 455.1L164.1 467.3M162.3 464.9l3.2 0.1M155.0 470.3L166.8 479.9M164.5 478.0l3.1 -0.7M155.0 485.5L168.2 493.1l4.9 -2.0M155.0 500.7L168.9 507.0l4.7 -2.5M155.0 515.9L169.3 521.2l4.5 -2.8M166.1 520.0l2.7 -1.7M174.0 59.9L183.3 71.9l-1.3 5.1M174.0 75.1L184.1 86.4l-0.9 5.2M174.0 90.3L185.0 100.8l-0.5 5.3M174.0 105.5L185.7 115.2l-0.2 5.3M174.0 120.7L186.3 129.6l0.2 5.3M174.0 135.9L186.9 144.0l5.0 -1.8M174.0 151.1L187.4 158.3l4.8 -2.1M184.4 156.7l2.9 -1.3M174.0 166.3L187.9 172.5l4.7 -2.5M184.8 171.1l2.8 -1.5M174.0 181.5L188.3 186.6l4.5 -2.8M185.1 185.5l2.7 -1.7M174.0 196.7L188.6 200.8l4.3 -3.1M185.4 199.9l4.3 -3.1M174.0 211.9L188.9 215.1l4.1 -3.4M185.5 214.4l4.1 -3.4M174.0 227.1L189.0 229.7l3.9 -3.6M185.6 229.1l3.9 -3.6M174.0 242.3L189.1 244.3l3.8 -3.7M185.7 243.9l2.3 -2.2M174.0 257.5L189.1 259.0l3.7 -3.8M185.7 258.6l2.2 -2.3M174.0 272.7L189.2 273.6l3.5 -4.0M185.8 273.4l2.1 -2.4M174.0 287.9L189.2 288.2l3.4 -4.1M185.8 288.2l2.0 -2.5M174.0 303.1L158.9 304.5l-2.9 4.5M162.3 304.2l-1.7 2.7M174.0 318.3L158.9 319.9l-2.8 4.5M162.3 319.5l-1.7 2.7M174.0 333.5L158.9 335.3l-2.7 4.5M162.3 334.9l-1.7 2.7M174.0 348.7L159.0 350.9l-2.6 4.6M174.0 363.9L159.0 366.5l-2.5 4.7M174.0 379.1L159.2 382.5M162.1 381.8l-1.4 2.9M174.0 394.3L159.5 398.9M162.4 398.0l-1.1 3.0M174.0 409.5L161.6 416.1M174.0 424.7L166.7 436.7M174.0 439.9L181.7 451.6M174.0 455.1L186.4 461.6M174.0 470.3L188.5 474.8M185.6 473.9l2.6 -1.8M174.0 485.5L188.8 488.8M185.9 488.2l2.5 -2.0M174.0 500.7L189.0 503.3l3.9 -3.6M174.0 515.9L189.0 518.1l3.8 -3.7M193.0 59.9L203.6 70.8l-0.7 5.3M193.0 75.1L204.3 85.3l-0.4 5.3M193.0 90.3L204.9 99.8l-0.0 5.3M193.0 105.5L205.4 114.2l0.3 5.3M193.0 120.7L205.9 128.7l0.6 5.3M193.0 135.9L206.4 143.1l4.9 -2.1M193.0 151.1L206.8 157.4l4.7 -2.4M203.7 156.0l2.8 -1.5M193.0 166.3L207.2 171.7l4.5 -2.8M204.0 170.5l2.7 -1.7M193.0 181.5L207.6 185.9l4.3 -3.1M204.3 184.9l2.6 -1.8M193.0 196.7L207.8 200.1l4.1 -3.3M204.5 199.3l4.1 -3.3M193.0 211.9L208.0 214.4l3.9 -3.6M204.6 213.9l3.9 -3.6M193.0 227.1L208.1 229.0l3.8 -3.7M204.7 228.6l3.8 -3.7M193.0 242.3L208.1 243.6l3.6 -3.9M204.8 243.3l3.6 -3.9M193.0 257.5L208.2 258.2l3.4 -4.0M204.8 258.0l2.1 -2.4M193.0 272.7L208.2 272.7l3.3 -4.2M204.8 272.7l2.0 -2.5M193.0 287.9L208.2 287.3l3.1 -4.3M204.8 287.4l1.9 -2.6M193.0 303.1L177.8 302.3l-3.5 4.0M181.2 302.5l-2.1 2.4M193.0 318.3L177.8 317.4l-3.5 4.0M181.2 317.6l-2.1 2.4M193.0 333.5L177.8 332.4l-3.6 3.9M181.2 332.7l-2.1 2.4M193.0 348.7L177.9 347.4l-3.6 3.9M193.0 363.9L177.9 362.3l-3.7 3.8M193.0 379.1L177.9 377.1M180.9 377.5l-2.3 2.2M193.0 394.3L178.1 391.5M181.0 392.1l-2.4 2.1M193.0 409.5L179.6 405.3M193.0 424.7L182.9 415.0M193.0 439.9L203.5 430.6M193.0 455.1L206.4 451.0M193.0 470.3L208.0 467.6M205.0 468.1l1.5 -2.8M193.0 485.5L208.1 483.5M205.1 483.9l1.6 -2.8M193.0 500.7L208.1 499.2l2.8 -4.5M193.0 515.9L208.1 514.6l2.9 -4.4M212.0 59.9L223.7 69.6l-0.1 5.3M212.0 75.1L224.2 84.1l0.1 5.3M212.0 90.3L224.7 98.7l0.4 5.3M212.0 105.5L225.1 113.2l0.7 5.3M212.0 120.7L225.5 127.7l1.0 5.2M212.0 135.9L225.8 142.2l4.7 -2.4M212.0 151.1L226.2 156.6l4.5 -2.7M223.0 155.4l2.7 -1.6M212.0 166.3L226.5 170.9l4.4 -3.0M223.3 169.8l2.6 -1.8M212.0 181.5L226.8 185.1l4.2 -3.3M223.5 184.3l2.5 -2.0M212.0 196.7L227.0 199.4l4.0 -3.5M223.6 198.8l4.0 -3.5M212.0 211.9L227.1 213.8l3.8 -3.7M223.7 213.4l3.8 -3.7M212.0 227.1L227.2 228.3l3.6 -3.9M223.8 228.0l3.6 -3.9M212.0 242.3L227.2 242.8l3.4 -4.1M223.8 242.7l3.4 -4.1M212.0 257.5L227.2 257.3l3.2 -4.2M223.8 257.4l3.2 -4.2M212.0 272.7L227.2 271.8l3.0 -4.4M223.8 272.0l3.0 -4.4M212.0 287.9L227.1 286.3l2.8 -4.5M223.7 286.7l2.8 -4.5M212.0 303.1L197.1 300.1l-4.0 3.4M200.4 300.8l-2.4 2.1M212.0 318.3L197.2 314.9l-4.1 3.3M200.5 315.7l-2.5 2.0M212.0 333.5L197.3 329.6l-4.2 3.2M200.6 330.5l-2.5 1.9M212.0 348.7L197.5 344.2l-4.4 3.0M200.7 345.2l-2.6 1.8M212.0 363.9L197.8 358.5l-4.5 2.7M212.0 379.1L198.4 372.4M201.1 373.7l-2.9 1.4M212.0 394.3L199.5 385.7M202.0 387.4l-3.1 1.0M212.0 409.5L202.8 398.9M212.0 424.7L208.2 411.2M212.0 439.9L216.1 426.5M212.0 455.1L221.3 444.6M212.0 470.3L224.6 461.8M222.1 463.4l0.2 -3.2M212.0 485.5L225.7 478.9M223.0 480.2l0.7 -3.1M212.0 500.7L226.2 495.3l1.6 -5.1M212.0 515.9L226.5 511.4l1.9 -5.0M223.3 512.4l1.1 -3.0M231.0 59.9L243.6 68.3l0.4 5.3M231.0 75.1L244.0 83.0l0.6 5.3M231.0 90.3L244.3 97.6l0.9 5.2M231.0 105.5L244.6 112.2l1.1 5.2M231.0 120.7L244.9 126.8l1.3 5.1M231.0 135.9L245.2 141.3l4.5 -2.7M231.0 151.1L245.5 155.7l4.4 -3.0M242.2 154.7l2.6 -1.8M231.0 166.3L245.7 170.1l4.2 -3.2M242.4 169.2l2.5 -1.9M231.0 181.5L245.9 184.4l4.0 -3.5M242.6 183.8l2.4 -2.1M231.0 196.7L246.1 198.8l3.8 -3.7M242.7 198.3l3.8 -3.7M231.0 211.9L246.1 213.2l3.6 -3.9M242.8 212.9l3.6 -3.9M231.0 227.1L246.2 227.6l3.4 -4.1M242.8 227.5l3.4 -4.1M231.0 242.3L246.2 242.1l3.2 -4.2M242.8 242.1l3.2 -4.2M231.0 257.5L246.2 256.5l3.0 -4.4M242.8 256.7l3.0 -4.4M231.0 272.7L246.1 270.9l2.8 -4.5M242.7 271.3l2.8 -4.5M231.0 287.9L246.0 285.4l2.5 -4.7M242.6 286.0l2.5 -4.7M231.0 303.1L245.7 299.2l2.1 -4.9M242.4 300.1l2.1 -4.9M231.0 318.3L245.1 312.7l1.5 -5.1M242.0 314.0l0.9 -3.1M231.0 333.5L217.2 327.2l-4.7 2.4M220.3 328.6l-2.8 1.5M231.0 348.7L217.6 341.5l-4.9 2.1M220.6 343.1l-2.9 1.3M231.0 363.9L218.3 355.5l-5.0 1.7M231.0 379.1L219.4 369.3l-5.2 1.1M231.0 394.3L221.2 382.6M223.2 384.9l-3.2 0.1M231.0 409.5L224.2 395.9M225.5 398.6l-3.1 -0.6M231.0 424.7L228.6 409.7M229.0 412.7l-2.8 -1.5M231.0 439.9L233.6 424.9M233.1 427.9l-2.1 -2.4M231.0 455.1L237.9 441.6M236.6 444.2l-1.3 -2.9M231.0 470.3L240.9 458.7M238.9 461.0l-0.6 -3.1M231.0 485.5L242.6 475.7l-0.2 -5.3M231.0 500.7L243.7 492.4l0.4 -5.3M231.0 515.9L244.4 508.7l0.9 -5.2M241.4 510.3l0.5 -3.2M250.0 59.9L262.7 68.2l0.4 5.3M250.0 75.1L263.1 82.7l0.7 5.3M250.0 90.3L263.5 97.2l1.0 5.2M250.0 105.5L263.9 111.7l1.3 5.1M250.0 120.7L264.2 126.2l1.5 5.1M250.0 135.9L264.4 140.7l4.4 -2.9M250.0 151.1L264.7 155.1l4.2 -3.2M261.4 154.2l2.6 -1.9M250.0 166.3L264.9 169.5l4.1 -3.4M261.5 168.8l2.5 -2.0M250.0 181.5L265.0 184.0l3.9 -3.6M261.6 183.4l2.4 -2.2M250.0 196.7L265.1 198.4l3.7 -3.8M261.7 198.0l3.7 -3.8M250.0 211.9L265.2 212.8l3.5 -4.0M261.8 212.6l3.5 -4.0M250.0 227.1L265.2 227.3l3.3 -4.1M261.8 227.3l3.3 -4.1M250.0 242.3L265.2 241.7l3.1 -4.3M261.8 241.9l3.1 -4.3M250.0 257.5L265.1 256.2l2.9 -4.4M261.8 256.5l2.9 -4.4M250.0 272.7L265.1 270.6l2.7 -4.6M261.7 271.1l2.7 -4.6M250.0 287.9L264.9 285.1l2.4 -4.7M261.6 285.7l2.4 -4.7M250.0 303.1L264.6 298.9l2.0 -4.9M261.3 299.8l2.0 -4.9M250.0 318.3L264.0 312.3l1.3 -5.1M260.8 313.6l0.8 -3.1M250.0 333.5L263.0 325.6l0.6 -5.3M260.1 327.4l0.4 -3.2M250.0 348.7L237.9 339.4l-5.1 1.3M240.6 341.5l-3.1 0.8M250.0 363.9L238.9 353.5l-5.2 0.8M241.4 355.8l-3.2 0.5M250.0 379.1L240.3 367.4l-5.3 0.1M250.0 394.3L242.3 381.2l-5.3 -0.7M250.0 409.5L245.0 395.2l-5.0 -1.7M250.0 424.7L248.3 409.6l-4.5 -2.8M250.0 439.9L251.9 424.8l-3.7 -3.8M250.0 455.1L255.2 440.8l-2.8 -4.5M250.0 470.3L257.8 457.3l-1.9 -4.9M250.0 485.5L259.7 473.8l-1.1 -5.2M250.0 500.7L261.1 490.3l-0.5 -5.3M258.6 492.7l-0.3 -3.2M250.0 515.9L262.1 506.7l0.1 -5.3M259.4 508.7l0.0 -3.2M269.0 59.9L281.8 68.1l0.5 5.3M269.0 75.1L282.2 82.6l0.8 5.2M269.0 90.3L282.7 96.9l1.1 5.2M269.0 105.5L283.1 111.2l1.5 5.1M269.0 120.7L283.4 125.5l1.8 5.0M269.0 135.9L283.7 140.0l4.3 -3.2M269.0 151.1L283.8 154.5l4.1 -3.3M280.5 153.7l2.5 -2.0M269.0 166.3L284.0 169.0l3.9 -3.5M280.6 168.4l2.4 -2.1M269.0 181.5L284.1 183.5l3.8 -3.7M280.7 183.0l2.3 -2.2M269.0 196.7L284.1 198.0l3.6 -3.9M280.8 197.7l3.6 -3.9M269.0 211.9L284.2 212.5l3.4 -4.0M280.8 212.4l3.4 -4.0M269.0 227.1L284.2 227.0l3.2 -4.2M280.8 227.0l3.2 -4.2M269.0 242.3L284.2 241.4l3.0 -4.4M280.8 241.6l3.0 -4.4M269.0 257.5L284.1 255.8l2.8 -4.5M280.7 256.2l2.8 -4.5M269.0 272.7L284.0 270.3l2.6 -4.6M280.7 270.8l2.6 -4.6M269.0 287.9L283.9 284.8l2.3 -4.8M280.5 285.5l2.3 -4.8M269.0 303.1L283.5 298.5l1.9 -5.0M280.3 299.6l1.9 -5.0M269.0 318.3L282.8 311.9l1.2 -5.2M279.7 313.3l0.7 -3.1M269.0 333.5L281.6 325.0l0.4 -5.3M278.8 326.9l0.2 -3.2M269.0 348.7L280.2 338.4l-0.4 -5.3M277.7 340.7l-0.2 -3.2M269.0 363.9L259.4 352.1l-5.3 0.1M261.5 354.8l-3.2 0.1M269.0 379.1L260.8 366.3l-5.3 -0.5M262.7 369.1l-3.2 -0.3M269.0 394.3L262.7 380.5l-5.2 -1.2M264.1 383.6l-3.1 -0.8M269.0 409.5L265.0 394.8l-4.9 -2.1M265.9 398.1l-2.9 -1.2M269.0 424.7L267.7 409.6l-4.4 -2.9M269.0 439.9L270.4 424.8l-3.8 -3.6M269.0 455.1L273.1 440.5l-3.1 -4.3M272.2 443.7l-1.9 -2.6M269.0 470.3L275.4 456.5l-2.4 -4.7M273.9 459.6l-1.5 -2.8M269.0 485.5L277.2 472.7l-1.7 -5.0M275.4 475.6l-1.1 -3.0M269.0 500.7L278.7 489.0l-1.1 -5.2M276.5 491.6l-0.7 -3.1M269.0 515.9L279.8 505.2l-0.6 -5.3M277.4 507.6l-0.4 -3.2M288.0 59.9L300.8 68.1l0.5 5.3M288.0 75.1L301.4 82.4l0.9 5.2M288.0 90.3L301.9 96.6l1.3 5.1M288.0 105.5L302.3 110.7l1.6 5.0M288.0 120.7L302.6 124.9l2.0 4.9M288.0 135.9L302.8 139.2l4.1 -3.4M288.0 151.1L303.0 153.8l4.0 -3.5M299.6 153.2l2.4 -2.1M288.0 166.3L303.1 168.4l3.8 -3.7M299.7 168.0l2.3 -2.2M288.0 181.5L303.1 183.0l3.7 -3.8M299.7 182.7l2.2 -2.3M288.0 196.7L303.2 197.6l3.5 -4.0M299.8 197.4l3.5 -4.0M288.0 211.9L303.2 212.2l3.3 -4.1M299.8 212.1l3.3 -4.1M288.0 227.1L303.2 226.7l3.1 -4.3M299.8 226.8l3.1 -4.3M288.0 242.3L303.2 241.1l2.9 -4.4M299.8 241.4l2.9 -4.4M288.0 257.5L303.1 255.5l2.7 -4.6M299.7 256.0l2.7 -4.6M288.0 272.7L303.0 270.0l2.5 -4.7M299.6 270.6l2.5 -4.7M288.0 287.9L302.8 284.4l2.2 -4.8M299.5 285.2l2.2 -4.8M288.0 303.1L302.4 298.2l1.7 -5.0M299.2 299.3l1.7 -5.0M288.0 318.3L301.6 311.4l1.0 -5.2M298.5 313.0l0.6 -3.1M288.0 333.5L300.2 324.5l0.1 -5.3M297.5 326.5l0.1 -3.2M288.0 348.7L298.6 337.8l-0.7 -5.3M296.2 340.2l-0.4 -3.2M288.0 363.9L297.1 351.7l-1.4 -5.1M288.0 379.1L296.3 366.4l-1.7 -5.0M288.0 394.3L282.7 380.0l-5.0 -1.6M283.9 383.2l-3.0 -1.0M288.0 409.5L284.7 394.7l-4.8 -2.3M285.5 398.0l-2.9 -1.4M288.0 424.7L286.9 409.5l-4.4 -3.0M287.2 412.9l-2.7 -1.8M288.0 439.9L289.2 424.7l-3.9 -3.6M288.9 428.1l-2.4 -2.2M288.0 455.1L291.4 440.3l-3.4 -4.1M290.6 443.6l-2.0 -2.5M288.0 470.3L293.3 456.1l-2.8 -4.5M292.1 459.3l-1.7 -2.7M288.0 485.5L295.1 472.0l-2.2 -4.8M293.5 475.1l-1.3 -2.9M288.0 500.7L296.5 488.1l-1.6 -5.0M294.6 490.9l-1.0 -3.0M288.0 515.9L297.7 504.2l-1.2 -5.2M295.5 506.8l-0.7 -3.1M307.0 59.9L319.9 68.0l0.5 5.3M307.0 75.1L320.5 82.2l1.0 5.2M307.0 90.3L321.0 96.2l1.4 5.1M307.0 105.5L321.5 110.2l1.8 5.0M307.0 120.7L321.8 124.2l2.2 4.8M307.0 135.9L322.0 138.5l3.9 -3.5M307.0 151.1L322.1 153.2l3.8 -3.7M318.7 152.7l2.3 -2.2M307.0 166.3L322.1 167.9l3.7 -3.8M318.7 167.5l2.2 -2.3M307.0 181.5L322.2 182.6l3.5 -3.9M318.8 182.3l2.1 -2.4M307.0 196.7L322.2 197.2l3.4 -4.1M318.8 197.1l3.4 -4.1M307.0 211.9L322.2 211.9l3.3 -4.2M318.8 211.9l3.3 -4.2M307.0 227.1L322.2 226.4l3.1 -4.3M318.8 226.5l3.1 -4.3M307.0 242.3L322.1 240.8l2.8 -4.5M318.7 241.1l2.8 -4.5M307.0 257.5L322.0 255.2l2.6 -4.6M318.7 255.7l2.6 -4.6M307.0 272.7L321.9 269.7l2.4 -4.7M318.6 270.3l2.4 -4.7M307.0 287.9L321.7 284.1l2.1 -4.9M318.4 285.0l2.1 -4.9M307.0 303.1L321.3 297.9l1.6 -5.0M318.1 299.0l1.6 -5.0M307.0 318.3L320.3 311.0l0.8 -5.2M317.3 312.6l0.5 -3.2M307.0 333.5L318.8 323.9l-0.1 -5.3M316.1 326.0l-0.1 -3.2M307.0 348.7L316.9 337.2l-1.0 -5.2M314.7 339.8l-0.6 -3.1M307.0 363.9L315.3 351.2l-1.7 -5.0M307.0 379.1L314.5 365.9l-2.0 -4.9M307.0 394.3L314.1 380.9l-2.2 -4.8M307.0 409.5L313.6 395.8l-2.3 -4.8M307.0 424.7L313.1 410.8l-2.5 -4.7M307.0 439.9L308.0 424.7l-4.0 -3.5M307.8 428.1l-2.4 -2.1M307.0 455.1L309.9 440.2l-3.5 -4.0M309.2 443.5l-2.1 -2.4M307.0 470.3L311.6 455.8l-3.0 -4.4M310.6 459.1l-1.8 -2.6M307.0 485.5L313.1 471.6l-2.5 -4.7M311.8 474.7l-1.5 -2.8M307.0 500.7L314.5 487.5l-2.0 -4.9M312.8 490.4l-1.2 -3.0M307.0 515.9L315.7 503.4l-1.6 -5.1M313.7 506.2l-0.9 -3.1M326.0 59.9L339.5 67.0l1.0 5.2M326.0 75.1L340.1 80.9l1.4 5.1M326.0 90.3L340.5 94.9l1.8 5.0M326.0 105.5L340.8 109.1l2.2 4.8M326.0 120.7L340.9 123.5l2.4 4.7M326.0 135.9L341.0 138.1l3.8 -3.7M326.0 151.1L341.1 152.8l3.7 -3.8M337.7 152.4l2.2 -2.3M326.0 166.3L341.1 167.6l3.6 -3.9M337.8 167.3l2.2 -2.3M326.0 181.5L341.2 182.3l3.5 -4.0M337.8 182.1l2.1 -2.4M326.0 196.7L341.2 197.1l3.4 -4.1M337.8 197.0l3.4 -4.1M326.0 211.9L341.2 211.8l3.2 -4.2M337.8 211.8l3.2 -4.2M326.0 227.1L341.2 226.2l3.0 -4.4M337.8 226.4l3.0 -4.4M326.0 242.3L341.1 240.7l2.8 -4.5M337.7 241.0l2.8 -4.5M326.0 257.5L341.0 255.1l2.5 -4.6M337.6 255.6l2.5 -4.6M326.0 272.7L340.9 269.5l2.3 -4.8M337.5 270.2l2.3 -4.8M326.0 287.9L340.7 283.9l2.1 -4.9M337.4 284.8l2.1 -4.9M326.0 303.1L340.2 297.7l1.6 -5.1M337.0 298.9l1.6 -5.1M326.0 318.3L339.3 310.9l0.8 -5.2M336.3 312.6l0.5 -3.2M326.0 333.5L337.9 324.0l-0.0 -5.3M335.2 326.2l-0.0 -3.2M326.0 348.7L336.2 337.5l-0.9 -5.2M333.9 340.0l-0.5 -3.2M326.0 363.9L334.7 351.4l-1.6 -5.1M326.0 379.1L333.9 366.1l-1.9 -5.0M326.0 394.3L333.3 381.0l-2.1 -4.9M326.0 409.5L332.6 395.8l-2.4 -4.7M326.0 424.7L331.7 410.6l-2.6 -4.6M326.0 439.9L330.7 425.5l-3.0 -4.4M326.0 455.1L328.5 440.1l-3.6 -3.9M327.9 443.5l-2.2 -2.4M326.0 470.3L330.0 455.6l-3.2 -4.2M329.1 458.9l-1.9 -2.6M326.0 485.5L331.4 471.3l-2.7 -4.5M330.2 474.5l-1.7 -2.7M326.0 500.7L332.7 487.1l-2.3 -4.8M331.2 490.1l-1.4 -2.9M326.0 515.9L333.8 502.9l-1.9 -4.9M332.1 505.8l-1.2 -3.0M345.0 59.9L359.9 63.0l2.3 4.8M345.0 75.1L360.0 77.7l2.5 4.7M345.0 90.3L360.0 92.6l2.6 4.6M345.0 105.5L360.1 107.6l2.7 4.6M356.7 107.1l1.6 2.8M345.0 120.7L360.1 122.7l2.7 4.6M356.7 122.2l1.6 2.8M345.0 135.9L360.1 137.6l3.7 -3.8M356.7 137.3l2.2 -2.3M345.0 151.1L360.1 152.5l3.6 -3.9M356.8 152.2l2.2 -2.3M345.0 166.3L360.2 167.3l3.5 -3.9M356.8 167.1l2.1 -2.4M345.0 181.5L360.2 182.2l3.4 -4.0M356.8 182.0l3.4 -4.0M345.0 196.7L360.2 197.0l3.3 -4.1M356.8 196.9l3.3 -4.1M345.0 211.9L360.2 211.8l3.2 -4.2M356.8 211.8l3.2 -4.2M345.0 227.1L360.2 226.2l3.0 -4.4M356.8 226.4l3.0 -4.4M345.0 242.3L360.1 240.6l2.8 -4.5M356.7 241.0l2.8 -4.5M345.0 257.5L360.0 254.9l2.5 -4.7M356.6 255.5l2.5 -4.7M345.0 272.7L359.8 269.3l2.3 -4.8M356.5 270.1l2.3 -4.8M345.0 287.9L359.6 283.8l2.0 -4.9M356.4 284.7l2.0 -4.9M345.0 303.1L359.2 297.6l1.5 -5.1M356.0 298.8l1.5 -5.1M345.0 318.3L358.4 311.1l0.9 -5.2M355.4 312.7l0.5 -3.2M345.0 333.5L357.2 324.4l0.1 -5.3M354.5 326.5l0.1 -3.2M345.0 348.7L355.8 338.0l-0.6 -5.3M353.4 340.4l-0.4 -3.2M345.0 363.9L354.5 352.0l-1.2 -5.2M345.0 379.1L353.7 366.6l-1.6 -5.1M345.0 394.3L353.0 381.4l-1.8 -5.0M345.0 409.5L351.8 395.9l-2.3 -4.8M345.0 424.7L349.9 410.3l-2.9 -4.4M345.0 439.9L346.8 424.8l-3.7 -3.7M345.0 455.1L344.9 439.9l-4.2 -3.2M345.0 470.3L347.7 455.3l-3.5 -4.0M347.1 458.7l-2.1 -2.4M345.0 485.5L348.9 470.8l-3.2 -4.2M348.0 474.1l-1.9 -2.6M345.0 500.7L350.0 486.4l-2.9 -4.5M348.9 489.6l-1.7 -2.7M345.0 515.9L351.0 502.0l-2.5 -4.7M349.7 505.1l-1.5 -2.8M364.0 59.9L378.4 55.0l4.4 2.9M364.0 75.1L379.0 72.7l3.9 3.6M364.0 90.3L379.2 89.6l3.5 4.0M375.8 89.7l2.1 2.4M364.0 105.5L379.2 105.9l3.2 4.3M375.8 105.8l1.9 2.6M364.0 120.7L379.2 121.8l3.0 4.4M375.8 121.6l1.8 2.7M364.0 135.9L379.1 137.2l3.6 -3.9M375.8 136.9l2.2 -2.3M364.0 151.1L379.2 152.2l3.5 -3.9M375.8 151.9l2.1 -2.4M364.0 166.3L379.2 167.1l3.5 -4.0M375.8 166.9l3.5 -4.0M364.0 181.5L379.2 182.0l3.4 -4.1M375.8 181.9l3.4 -4.1M364.0 196.7L379.2 196.9l3.3 -4.1M375.8 196.9l3.3 -4.1M364.0 211.9L379.2 211.8l3.2 -4.2M375.8 211.8l3.2 -4.2M364.0 227.1L379.2 226.2l3.0 -4.4M375.8 226.4l3.0 -4.4M364.0 242.3L379.1 240.5l2.7 -4.5M375.7 240.9l2.7 -4.5M364.0 257.5L379.0 254.8l2.5 -4.7M375.6 255.4l2.5 -4.7M364.0 272.7L378.8 269.2l2.2 -4.8M375.5 270.0l2.2 -4.8M364.0 287.9L378.6 283.6l1.9 -4.9M375.3 284.5l1.9 -4.9M364.0 303.1L378.1 297.5l1.5 -5.1M375.0 298.8l1.5 -5.1M364.0 318.3L377.4 311.2l0.9 -5.2M374.4 312.8l0.6 -3.2M364.0 333.5L376.5 324.8l0.3 -5.3M373.7 326.7l0.2 -3.2M364.0 348.7L375.3 338.6l-0.4 -5.3M372.8 340.8l-0.2 -3.2M364.0 363.9L374.2 352.6l-0.9 -5.2M364.0 379.1L373.5 367.3l-1.2 -5.2M364.0 394.3L373.0 382.0l-1.4 -5.1M364.0 409.5L371.5 396.3l-2.0 -4.9M364.0 424.7L363.2 439.9l4.0 3.5M364.0 439.9L371.2 453.3l5.2 0.9M364.0 455.1L371.9 468.1l5.3 0.6M364.0 470.3L369.5 484.5l5.1 1.5M364.0 485.5L364.0 470.3l-4.2 -3.3M364.0 473.7l-2.5 -2.0M364.0 500.7L364.7 485.5l-4.0 -3.5M364.5 488.9l-2.4 -2.1M364.0 515.9L365.4 500.8l-3.9 -3.6M365.1 504.1l-2.3 -2.2M383.0 59.9L395.7 51.6l5.0 1.7M383.0 75.1L396.9 69.0l4.7 2.5M393.8 70.3l2.8 1.5M383.0 90.3L397.7 86.6l4.2 3.3M394.5 87.4l2.5 2.0M383.0 105.5L398.1 104.0l3.6 3.8M394.7 104.4l2.2 2.3M383.0 120.7L398.2 120.9l3.2 4.2M394.8 120.9l3.2 4.2M383.0 135.9L398.2 136.8l3.5 -4.0M394.8 136.6l3.5 -4.0M383.0 151.1L398.2 151.8l3.5 -4.0M394.8 151.7l3.5 -4.0M383.0 166.3L398.2 166.8l3.4 -4.1M394.8 166.7l3.4 -4.1M383.0 181.5L398.2 181.9l3.4 -4.1M394.8 181.8l3.4 -4.1M383.0 196.7L398.2 196.9l3.3 -4.1M394.8 196.8l3.3 -4.1M383.0 211.9L398.2 211.8l3.2 -4.2M394.8 211.8l3.2 -4.2M383.0 227.1L398.2 226.1l3.0 -4.4M394.8 226.3l3.0 -4.4M383.0 242.3L398.1 240.4l2.7 -4.5M394.7 240.8l2.7 -4.5M383.0 257.5L397.9 254.7l2.4 -4.7M394.6 255.3l2.4 -4.7M383.0 272.7L397.8 269.0l2.2 -4.8M394.5 269.9l2.2 -4.8M383.0 287.9L397.5 283.4l1.9 -5.0M394.3 284.4l1.9 -5.0M383.0 303.1L397.1 297.4l1.5 -5.1M393.9 298.7l1.5 -5.1M383.0 318.3L396.5 311.3l1.0 -5.2M393.5 312.9l0.6 -3.1M383.0 333.5L395.7 325.1l0.4 -5.3M392.8 327.0l0.3 -3.2M383.0 348.7L394.8 339.1l-0.1 -5.3M392.1 341.2l-0.1 -3.2M383.0 363.9L393.8 353.2l-0.6 -5.3M383.0 379.1L393.5 368.1l-0.8 -5.2M383.0 394.3L393.5 383.3l-0.8 -5.2M383.0 409.5L394.0 399.0l-0.5 -5.3M383.0 424.7L394.4 434.8l5.2 -1.0M383.0 439.9L394.2 450.2l5.2 -0.9M383.0 455.1L393.8 465.8l5.3 -0.7M383.0 470.3L392.2 482.4l5.3 0.0M383.0 485.5L379.4 470.7l-4.8 -2.2M380.2 474.0l-2.9 -1.3M383.0 500.7L379.7 485.9l-4.8 -2.3M380.5 489.2l-2.9 -1.4M383.0 515.9L380.0 501.0l-4.7 -2.4M380.7 504.3l-2.9 -1.4M402.0 59.9L414.2 50.9l5.1 1.4M402.0 75.1L415.6 68.3l4.8 2.3M412.6 69.8l2.9 1.4M402.0 90.3L416.6 86.1l4.3 3.1M413.3 87.1l2.6 1.9M402.0 105.5L417.1 103.6l3.8 3.7M413.7 104.0l2.3 2.3M402.0 120.7L417.2 120.5l3.3 4.1M413.8 120.5l3.3 4.1M402.0 135.9L417.2 136.4l3.4 -4.1M413.8 136.3l3.4 -4.1M402.0 151.1L417.2 151.4l3.3 -4.1M413.8 151.3l3.3 -4.1M402.0 166.3L417.2 166.4l3.3 -4.1M413.8 166.4l3.3 -4.1M402.0 181.5L417.2 181.5l3.3 -4.2M413.8 181.5l3.3 -4.2M402.0 196.7L417.2 196.5l3.2 -4.2M413.8 196.6l3.2 -4.2M402.0 211.9L417.2 211.5l3.1 -4.3M413.8 211.6l3.1 -4.3M402.0 227.1L417.1 225.8l2.9 -4.4M413.8 226.1l2.9 -4.4M402.0 242.3L417.0 240.1l2.6 -4.6M413.7 240.6l2.6 -4.6M402.0 257.5L416.9 254.4l2.3 -4.8M413.6 255.1l2.3 -4.8M402.0 272.7L416.7 268.7l2.1 -4.9M413.4 269.6l2.1 -4.9M402.0 287.9L416.4 283.1l1.8 -5.0M413.2 284.2l1.8 -5.0M402.0 303.1L416.1 297.3l1.4 -5.1M412.9 298.6l1.4 -5.1M402.0 318.3L415.6 311.5l1.0 -5.2M412.5 313.0l0.6 -3.1M402.0 333.5L415.0 325.6l0.6 -5.3M412.1 327.4l0.4 -3.2M402.0 348.7L414.3 339.8l0.2 -5.3M411.5 341.8l0.1 -3.2M402.0 363.9L413.6 354.0l-0.2 -5.3M402.0 379.1L413.5 369.1l-0.3 -5.3M402.0 394.3L414.3 385.4l0.2 -5.3M402.0 409.5L417.2 409.6l3.3 -4.1M402.0 424.7L414.6 433.2l5.0 -1.6M402.0 439.9L413.9 449.4l5.2 -1.2M402.0 455.1L413.3 465.2l5.2 -0.9M402.0 470.3L412.0 481.7l5.3 -0.3M402.0 485.5L410.3 498.3l5.3 0.5M402.0 500.7L395.6 486.9l-5.2 -1.2M397.0 490.0l-3.1 -0.7M402.0 515.9L395.6 502.1l-5.2 -1.2M397.0 505.2l-3.1 -0.7M421.0 59.9L432.9 50.4l5.2 1.2M421.0 75.1L435.3 70.0l4.5 2.8M421.0 90.3L436.0 87.9l3.9 3.6M432.6 88.4l2.3 2.2M421.0 105.5L436.2 104.4l3.5 3.9M432.8 104.7l2.1 2.4M421.0 120.7L436.2 120.4l3.3 4.1M432.8 120.5l2.0 2.5M421.0 135.9L436.2 135.9l3.3 -4.2M432.8 135.9l2.0 -2.5M421.0 151.1L436.2 150.9l3.2 -4.2M432.8 150.9l1.9 -2.6M421.0 166.3L436.2 165.9l3.1 -4.3M432.8 166.0l3.1 -4.3M421.0 181.5L436.2 180.9l3.1 -4.3M432.8 181.0l3.1 -4.3M421.0 196.7L436.2 195.9l3.0 -4.3M432.8 196.1l3.0 -4.3M421.0 211.9L436.2 210.8l3.0 -4.4M432.8 211.1l3.0 -4.4M421.0 227.1L436.1 225.2l2.7 -4.6M432.7 225.6l2.7 -4.6M421.0 242.3L435.9 239.5l2.5 -4.7M432.6 240.2l2.5 -4.7M421.0 257.5L435.8 253.9l2.2 -4.8M432.5 254.7l2.2 -4.8M421.0 272.7L435.5 268.3l1.9 -4.9M432.3 269.3l1.9 -4.9M421.0 287.9L435.3 282.7l1.6 -5.0M432.1 283.8l1.6 -5.0M421.0 303.1L435.0 297.2l1.4 -5.1M431.9 298.5l1.4 -5.1M421.0 318.3L434.7 311.7l1.1 -5.2M431.6 313.2l0.7 -3.1M421.0 333.5L434.3 326.2l0.9 -5.2M431.3 327.8l0.5 -3.2M421.0 348.7L433.9 340.7l0.6 -5.3M431.0 342.5l0.3 -3.2M421.0 363.9L433.5 355.2l0.3 -5.3M421.0 379.1L433.6 370.6l0.4 -5.3M421.0 394.3L434.7 387.7l1.1 -5.2M421.0 409.5L436.1 411.0l3.7 -3.8M421.0 424.7L434.0 432.6l5.0 -1.9M421.0 439.9L433.0 449.3l5.1 -1.3M421.0 455.1L432.3 465.2l5.2 -0.9M421.0 470.3L431.1 481.7l5.3 -0.3M421.0 485.5L429.4 498.2l5.3 0.4M421.0 500.7L414.6 486.9l-5.2 -1.2M416.0 490.0l-3.1 -0.7M421.0 515.9L414.6 502.1l-5.2 -1.2M416.0 505.2l-3.1 -0.7M440.0 59.9L446.7 73.6l-2.3 4.8M440.0 75.1L454.9 78.2l2.3 4.8M440.0 90.3L455.2 90.9l3.1 4.3M440.0 105.5L455.2 105.4l3.3 4.2M451.8 105.5l2.0 2.5M440.0 120.7L455.2 120.3l3.4 4.1M451.8 120.4l2.0 2.5M440.0 135.9L455.2 135.3l3.1 -4.3M451.8 135.5l1.9 -2.6M440.0 151.1L455.2 150.3l3.0 -4.3M451.8 150.5l1.8 -2.6M440.0 166.3L455.2 165.3l3.0 -4.4M451.8 165.5l1.8 -2.6M440.0 181.5L455.2 180.3l2.9 -4.4M451.8 180.6l2.9 -4.4M440.0 196.7L455.1 195.3l2.9 -4.5M451.7 195.6l2.9 -4.5M440.0 211.9L455.1 210.2l2.8 -4.5M451.7 210.6l2.8 -4.5M440.0 227.1L455.0 224.6l2.5 -4.7M451.6 225.2l2.5 -4.7M440.0 242.3L454.8 239.0l2.3 -4.8M451.5 239.7l2.3 -4.8M440.0 257.5L454.6 253.4l2.0 -4.9M451.4 254.3l2.0 -4.9M440.0 272.7L454.4 267.8l1.7 -5.0M451.2 268.9l1.7 -5.0M440.0 287.9L454.1 282.3l1.5 -5.1M451.0 283.5l1.5 -5.1M440.0 303.1L454.0 297.1l1.3 -5.1M450.8 298.4l1.3 -5.1M440.0 318.3L453.8 311.9l1.2 -5.2M450.7 313.4l0.7 -3.1M440.0 333.5L453.6 326.8l1.1 -5.2M450.6 328.3l0.7 -3.1M440.0 348.7L453.5 341.6l0.9 -5.2M450.4 343.2l0.6 -3.1M440.0 363.9L453.3 356.5l0.8 -5.2M440.0 379.1L453.6 372.2l1.0 -5.2M440.0 394.3L454.6 389.9l1.9 -4.9M440.0 409.5L455.1 411.6l3.8 -3.7M440.0 424.7L453.3 432.1l4.9 -2.1M440.0 439.9L452.1 449.1l5.1 -1.3M440.0 455.1L451.3 465.2l5.2 -0.9M440.0 470.3L450.1 481.6l5.3 -0.3M440.0 485.5L448.5 498.1l5.3 0.4M440.0 500.7L433.6 486.9l-5.2 -1.2M435.0 490.0l-3.1 -0.7M440.0 515.9L433.6 502.1l-5.2 -1.2M435.0 505.2l-3.1 -0.7M459.0 59.9L467.2 72.7l-1.8 5.0M459.0 75.1L470.4 85.2l-0.3 5.3M459.0 90.3L473.5 94.9l1.8 5.0M459.0 105.5L474.2 106.6l2.9 4.4M459.0 120.7L474.2 120.3l3.4 4.1M459.0 135.9L474.2 134.8l3.0 -4.4M459.0 151.1L474.1 149.8l2.9 -4.4M470.8 150.1l1.7 -2.7M459.0 166.3L474.1 164.8l2.8 -4.5M470.7 165.1l1.7 -2.7M459.0 181.5L474.1 179.7l2.8 -4.5M470.7 180.1l1.7 -2.7M459.0 196.7L474.1 194.7l2.7 -4.6M470.7 195.1l2.7 -4.6M459.0 211.9L474.0 209.6l2.6 -4.6M470.7 210.1l2.6 -4.6M459.0 227.1L473.9 224.0l2.4 -4.7M470.6 224.7l2.4 -4.7M459.0 242.3L473.7 238.5l2.1 -4.9M470.4 239.3l2.1 -4.9M459.0 257.5L473.5 252.9l1.8 -5.0M470.2 253.9l1.8 -5.0M459.0 272.7L473.2 267.4l1.6 -5.1M470.0 268.5l1.6 -5.1M459.0 287.9L472.9 281.8l1.3 -5.1M469.8 283.2l1.3 -5.1M459.0 303.1L472.9 297.0l1.3 -5.1M469.8 298.3l1.3 -5.1M459.0 318.3L472.9 312.2l1.3 -5.1M469.8 313.5l0.8 -3.1M459.0 333.5L472.9 327.4l1.3 -5.1M469.8 328.7l0.8 -3.1M459.0 348.7L472.9 342.6l1.3 -5.1M469.8 343.9l0.8 -3.1M459.0 363.9L472.9 357.8l1.3 -5.1M459.0 379.1L473.2 373.8l1.6 -5.1M459.0 394.3L474.0 391.6l2.5 -4.7M459.0 409.5L474.0 411.8l3.9 -3.6M459.0 424.7L472.5 431.7l4.8 -2.2M459.0 439.9L471.2 449.0l5.1 -1.4M459.0 455.1L470.3 465.2l5.2 -0.9M459.0 470.3L469.1 481.6l5.3 -0.4M459.0 485.5L467.6 498.0l5.3 0.3M459.0 500.7L452.6 486.9l-5.2 -1.2M454.0 490.0l-3.1 -0.7M459.0 515.9L452.6 502.1l-5.2 -1.2M454.0 505.2l-3.1 -0.7M478.0 59.9L486.9 72.2l-1.5 5.1M478.0 75.1L489.2 85.4l-0.4 5.3M478.0 90.3L492.1 96.0l1.4 5.1M478.0 105.5L493.1 107.0l2.8 4.5M478.0 120.7L493.2 120.1l3.4 4.0M478.0 135.9L493.1 134.4l2.8 -4.5M478.0 151.1L493.1 149.4l2.8 -4.5M489.7 149.8l1.7 -2.7M478.0 166.3L493.1 164.4l2.7 -4.5M489.7 164.9l1.6 -2.7M478.0 181.5L493.1 179.4l2.7 -4.6M489.7 179.9l1.6 -2.8M478.0 196.7L493.0 194.4l2.6 -4.6M489.7 194.9l2.6 -4.6M478.0 211.9L493.0 209.4l2.5 -4.7M489.6 209.9l2.5 -4.7M478.0 227.1L492.9 223.9l2.3 -4.8M489.5 224.6l2.3 -4.8M478.0 242.3L492.7 238.4l2.1 -4.9M489.4 239.3l2.1 -4.9M478.0 257.5L492.5 252.9l1.8 -5.0M489.2 253.9l1.8 -5.0M478.0 272.7L492.2 267.4l1.6 -5.1M489.1 268.6l1.6 -5.1M478.0 287.9L492.0 281.9l1.4 -5.1M488.8 283.2l1.4 -5.1M478.0 303.1L492.0 297.2l1.4 -5.1M488.9 298.5l1.4 -5.1M478.0 318.3L492.1 312.7l1.5 -5.1M489.0 313.9l0.9 -3.1M478.0 333.5L492.2 328.1l1.6 -5.1M489.0 329.3l0.9 -3.1M478.0 348.7L492.3 343.6l1.7 -5.0M489.1 344.7l1.0 -3.0M478.0 363.9L492.4 359.0l1.8 -5.0M478.0 379.1L492.7 375.1l2.1 -4.9M478.0 394.3L493.1 392.5l2.7 -4.5M478.0 409.5L493.1 411.4l3.7 -3.7M478.0 424.7L492.0 430.6l4.6 -2.6M478.0 439.9L490.6 448.4l5.0 -1.6M478.0 455.1L489.6 465.0l5.2 -1.1M478.0 470.3L488.2 481.5l5.3 -0.4M478.0 485.5L471.6 471.7l-5.2 -1.2M473.0 474.8l-3.1 -0.7M478.0 500.7L471.6 486.9l-5.2 -1.2M473.0 490.0l-3.1 -0.7M478.0 515.9L471.6 502.1l-5.2 -1.2M473.0 505.2l-3.1 -0.7M497.0 59.9L508.7 69.6l-0.1 5.3M497.0 75.1L511.1 80.9l1.4 5.1M497.0 90.3L512.0 92.5l2.6 4.6M497.0 105.5L512.2 105.6l3.2 4.2M497.0 120.7L512.2 119.6l3.6 3.9M497.0 135.9L512.1 134.3l2.8 -4.5M497.0 151.1L512.1 149.5l2.8 -4.5M508.7 149.8l1.7 -2.7M497.0 166.3L512.1 164.6l2.8 -4.5M508.7 165.0l1.7 -2.7M497.0 181.5L512.1 179.8l2.8 -4.5M508.7 180.2l1.7 -2.7M497.0 196.7L512.1 194.9l2.8 -4.5M508.7 195.3l2.8 -4.5M497.0 211.9L512.1 210.0l2.7 -4.6M508.7 210.4l2.7 -4.6M497.0 227.1L512.0 224.6l2.5 -4.7M508.6 225.2l2.5 -4.7M497.0 242.3L511.9 239.2l2.4 -4.7M508.6 239.9l2.4 -4.7M497.0 257.5L511.8 253.8l2.2 -4.8M508.5 254.7l2.2 -4.8M497.0 272.7L511.6 268.4l2.0 -4.9M508.3 269.4l2.0 -4.9M497.0 287.9L511.4 283.1l1.8 -5.0M508.2 284.1l1.8 -5.0M497.0 303.1L511.5 298.4l1.8 -5.0M508.2 299.5l1.8 -5.0M497.0 318.3L511.6 313.9l1.9 -4.9M508.3 314.9l1.9 -4.9M497.0 333.5L511.7 329.5l2.0 -4.9M508.4 330.4l1.2 -3.0M497.0 348.7L511.7 345.0l2.1 -4.8M508.4 345.8l1.3 -2.9M497.0 363.9L511.8 360.5l2.2 -4.8M508.5 361.3l1.4 -2.9M497.0 379.1L511.9 376.3l2.4 -4.7M508.6 376.9l1.5 -2.8M497.0 394.3L512.1 392.7l2.8 -4.5M497.0 409.5L512.2 409.6l3.3 -4.2M497.0 424.7L512.0 427.2l3.9 -3.6M497.0 439.9L511.2 445.3l4.5 -2.7M497.0 455.1L509.9 463.1l5.0 -1.8M497.0 470.3L507.6 481.2l5.3 -0.6M497.0 485.5L490.6 471.7l-5.2 -1.2M492.0 474.8l-3.1 -0.7M497.0 500.7L490.6 486.9l-5.2 -1.2M492.0 490.0l-3.1 -0.7M497.0 515.9L490.6 502.1l-5.2 -1.2M492.0 505.2l-3.1 -0.7M516.0 59.9L530.9 62.7l2.4 4.7M516.0 75.1L531.2 76.1l3.0 4.4M516.0 90.3L531.2 90.1l3.3 4.1M516.0 105.5L531.2 104.5l3.5 4.0M516.0 120.7L531.1 119.2l3.7 3.8M516.0 135.9L531.1 134.2l2.8 -4.5M516.0 151.1L531.1 149.5l2.8 -4.5M527.7 149.8l1.7 -2.7M516.0 166.3L531.1 164.8l2.8 -4.5M527.7 165.1l1.7 -2.7M516.0 181.5L531.1 180.1l2.9 -4.5M527.8 180.4l1.7 -2.7M516.0 196.7L531.1 195.4l2.9 -4.4M527.8 195.7l2.9 -4.4M516.0 211.9L531.1 210.7l2.9 -4.4M527.8 210.9l2.9 -4.4M516.0 227.1L531.1 225.4l2.8 -4.5M527.7 225.8l2.8 -4.5M516.0 242.3L531.0 240.1l2.6 -4.6M527.7 240.6l2.6 -4.6M516.0 257.5L531.0 254.9l2.5 -4.7M527.6 255.4l2.5 -4.7M516.0 272.7L530.9 269.6l2.3 -4.8M527.5 270.3l2.3 -4.8M516.0 287.9L530.8 284.3l2.2 -4.8M527.5 285.1l2.2 -4.8M516.0 303.1L530.8 299.8l2.3 -4.8M527.5 300.5l2.3 -4.8M516.0 318.3L530.9 315.3l2.4 -4.7M527.6 316.0l2.4 -4.7M516.0 333.5L531.0 330.9l2.5 -4.7M527.6 331.5l2.5 -4.7M516.0 348.7L531.0 346.5l2.6 -4.6M527.7 347.0l1.6 -2.8M516.0 363.9L531.1 362.1l2.7 -4.5M527.7 362.5l1.7 -2.7M516.0 379.1L531.1 377.5l2.8 -4.5M527.7 377.9l1.7 -2.7M516.0 394.3L531.1 392.8l2.8 -4.5M527.7 393.1l1.7 -2.7M516.0 409.5L531.1 408.1l2.9 -4.5M527.8 408.4l1.7 -2.7M516.0 424.7L531.2 423.5l2.9 -4.4M516.0 439.9L531.2 438.9l3.0 -4.4M516.0 455.1L531.2 455.1l3.3 -4.2M516.0 470.3L509.6 456.5l-5.2 -1.2M511.0 459.6l-3.1 -0.7M516.0 485.5L509.6 471.7l-5.2 -1.2M511.0 474.8l-3.1 -0.7M516.0 500.7L509.6 486.9l-5.2 -1.2M511.0 490.0l-3.1 -0.7M516.0 515.9L509.6 502.1l-5.2 -1.2M511.0 505.2l-3.1 -0.7M535.0 59.9L550.2 58.7l3.6 3.9M535.0 75.1L550.1 73.7l3.6 3.9M535.0 90.3L550.1 88.7l3.7 3.8M535.0 105.5L550.1 103.8l3.7 3.8M535.0 120.7L550.1 118.8l3.8 3.7M535.0 135.9L550.1 134.1l2.7 -4.5M535.0 151.1L550.1 149.5l2.8 -4.5M546.7 149.9l1.7 -2.7M535.0 166.3L550.1 165.0l2.9 -4.4M546.8 165.3l1.7 -2.7M535.0 181.5L550.2 180.4l3.0 -4.4M546.8 180.7l1.8 -2.7M535.0 196.7L550.2 195.9l3.0 -4.3M546.8 196.1l3.0 -4.3M535.0 211.9L550.2 211.3l3.1 -4.3M546.8 211.4l3.1 -4.3M535.0 227.1L550.2 226.2l3.0 -4.4M546.8 226.4l3.0 -4.4M535.0 242.3L550.1 241.0l2.9 -4.4M546.8 241.3l2.9 -4.4M535.0 257.5L550.1 255.9l2.8 -4.5M546.7 256.2l2.8 -4.5M535.0 272.7L550.1 270.7l2.7 -4.6M546.7 271.1l2.7 -4.6M535.0 287.9L550.0 285.5l2.6 -4.6M546.7 286.1l2.6 -4.6M535.0 303.1L550.1 301.1l2.7 -4.6M546.7 301.5l2.7 -4.6M535.0 318.3L550.1 316.7l2.8 -4.5M546.7 317.1l2.8 -4.5M535.0 333.5L550.2 332.4l2.9 -4.4M546.8 332.6l2.9 -4.4M535.0 348.7L550.2 348.1l3.1 -4.3M546.8 348.2l3.1 -4.3M535.0 363.9L550.2 363.7l3.2 -4.2M546.8 363.8l3.2 -4.2M535.0 379.1L550.2 378.6l3.1 -4.3M546.8 378.7l1.9 -2.6M535.0 394.3L550.1 392.9l2.9 -4.5M546.8 393.2l1.7 -2.7M535.0 409.5L550.0 407.0l2.5 -4.7M546.6 407.6l1.5 -2.8M535.0 424.7L549.7 420.9l2.1 -4.9M535.0 439.9L549.3 434.7l1.6 -5.0M535.0 455.1L548.8 448.7l1.2 -5.2M535.0 470.3L528.6 456.5l-5.2 -1.2M530.0 459.6l-3.1 -0.7M535.0 485.5L528.6 471.7l-5.2 -1.2M530.0 474.8l-3.1 -0.7M535.0 500.7L528.6 486.9l-5.2 -1.2M530.0 490.0l-3.1 -0.7M535.0 515.9L528.6 502.1l-5.2 -1.2M530.0 505.2l-3.1 -0.7M554.0 59.9L569.0 57.5l3.9 3.6M554.0 75.1L569.0 72.8l3.9 3.6M554.0 90.3L569.0 88.1l3.8 3.6M554.0 105.5L569.0 103.3l3.8 3.7M554.0 120.7L569.1 118.6l3.8 3.7M554.0 135.9L569.1 134.0l2.7 -4.5M554.0 151.1L569.1 149.6l2.8 -4.5M565.7 149.9l1.7 -2.7M554.0 166.3L569.2 165.2l2.9 -4.4M565.8 165.4l1.8 -2.7M554.0 181.5L569.2 180.8l3.1 -4.3M565.8 180.9l1.8 -2.6M554.0 196.7L569.2 196.3l3.2 -4.3M565.8 196.4l3.2 -4.3M554.0 211.9L569.2 211.8l3.2 -4.2M565.8 211.9l3.2 -4.2M554.0 227.1L569.2 226.8l3.2 -4.2M565.8 226.9l3.2 -4.2M554.0 242.3L569.2 241.7l3.1 -4.3M565.8 241.9l3.1 -4.3M554.0 257.5L569.2 256.7l3.0 -4.3M565.8 256.9l3.0 -4.3M554.0 272.7L569.2 271.7l3.0 -4.4M565.8 271.9l3.0 -4.4M554.0 287.9L569.1 286.6l2.9 -4.4M565.8 286.9l2.9 -4.4M554.0 303.1L569.2 302.2l3.0 -4.4M565.8 302.4l3.0 -4.4M554.0 318.3L569.2 317.9l3.2 -4.3M565.8 318.0l3.2 -4.3M554.0 333.5L569.2 333.7l3.3 -4.1M565.8 333.6l3.3 -4.1M554.0 348.7L569.2 349.4l3.4 -4.0M565.8 349.2l3.4 -4.0M554.0 363.9L569.2 365.1l3.6 -3.9M565.8 364.8l3.6 -3.9M554.0 379.1L569.2 379.6l3.4 -4.1M565.8 379.5l3.4 -4.1M554.0 394.3L569.2 393.1l2.9 -4.4M565.8 393.3l1.8 -2.7M554.0 409.5L568.9 406.3l2.3 -4.8M565.5 407.0l1.4 -2.9M554.0 424.7L568.3 419.6l1.7 -5.0M565.1 420.7l1.0 -3.0M554.0 439.9L567.6 433.2l1.1 -5.2M554.0 455.1L567.0 447.3l0.6 -5.3M554.0 470.3L547.6 456.5l-5.2 -1.2M549.0 459.6l-3.1 -0.7M554.0 485.5L547.6 471.7l-5.2 -1.2M549.0 474.8l-3.1 -0.7M554.0 500.7L547.6 486.9l-5.2 -1.2M549.0 490.0l-3.1 -0.7M554.0 515.9L547.6 502.1l-5.2 -1.2M549.0 505.2l-3.1 -0.7M573.0 59.9L588.2 59.3l3.4 4.1M573.0 75.1L588.2 74.4l3.5 4.0M573.0 90.3L588.2 89.4l3.5 4.0M573.0 105.5L588.2 104.5l3.5 4.0M573.0 120.7L588.2 119.6l3.6 3.9M573.0 135.9L588.2 134.7l2.9 -4.4M573.0 151.1L588.2 150.1l3.0 -4.4M573.0 166.3L588.2 165.5l3.0 -4.3M584.8 165.7l1.8 -2.6M573.0 181.5L588.2 180.8l3.1 -4.3M584.8 181.0l1.9 -2.6M573.0 196.7L588.2 196.2l3.1 -4.3M584.8 196.3l1.9 -2.6M573.0 211.9L588.2 211.5l3.2 -4.3M584.8 211.6l1.9 -2.6M573.0 227.1L588.2 226.5l3.1 -4.3M584.8 226.7l3.1 -4.3M573.0 242.3L588.2 241.6l3.1 -4.3M584.8 241.7l3.1 -4.3M573.0 257.5L588.2 256.6l3.0 -4.4M584.8 256.8l3.0 -4.4M573.0 272.7L588.2 271.6l2.9 -4.4M584.8 271.8l2.9 -4.4M573.0 287.9L588.1 286.6l2.9 -4.4M584.8 286.9l2.9 -4.4M573.0 303.1L588.2 302.3l3.0 -4.3M584.8 302.5l3.0 -4.3M573.0 318.3L588.2 318.1l3.2 -4.2M584.8 318.2l3.2 -4.2M573.0 333.5L588.2 334.0l3.4 -4.1M584.8 333.9l3.4 -4.1M573.0 348.7L588.2 349.8l3.6 -3.9M584.8 349.6l3.6 -3.9M573.0 363.9L588.1 365.7l3.7 -3.8M584.7 365.3l3.7 -3.8M573.0 379.1L588.2 380.2l3.6 -3.9M584.8 380.0l2.1 -2.4M573.0 394.3L588.2 393.5l3.0 -4.3M584.8 393.7l1.8 -2.6M573.0 409.5L587.9 406.6l2.4 -4.7M584.6 407.2l1.5 -2.9M573.0 424.7L587.4 419.7l1.7 -5.0M573.0 439.9L586.6 433.2l1.1 -5.2M573.0 455.1L586.0 447.2l0.6 -5.3M573.0 470.3L570.4 455.3l-4.7 -2.5M571.0 458.7l-2.8 -1.5M573.0 485.5L570.4 470.5l-4.7 -2.5M571.0 473.9l-2.8 -1.5M573.0 500.7L570.4 485.7l-4.7 -2.5M571.0 489.1l-2.8 -1.5M573.0 515.9L570.4 500.9l-4.7 -2.5M571.0 504.3l-2.8 -1.5M592.0 59.9L607.1 61.5l2.8 4.5M592.0 75.1L607.2 76.3l2.9 4.4M592.0 90.3L607.2 91.0l3.1 4.3M592.0 105.5L607.2 105.7l3.2 4.2M592.0 120.7L607.2 120.5l3.3 4.1M592.0 135.9L607.2 135.5l3.1 -4.3M592.0 151.1L607.2 150.6l3.1 -4.3M592.0 166.3L607.2 165.8l3.1 -4.3M592.0 181.5L607.2 180.9l3.1 -4.3M603.8 181.1l1.9 -2.6M592.0 196.7L607.2 196.1l3.1 -4.3M603.8 196.2l1.9 -2.6M592.0 211.9L607.2 211.2l3.1 -4.3M603.8 211.4l1.9 -2.6M592.0 227.1L607.2 226.3l3.0 -4.3M603.8 226.5l1.8 -2.6M592.0 242.3L607.2 241.4l3.0 -4.4M603.8 241.6l1.8 -2.6M592.0 257.5L607.2 256.4l3.0 -4.4M603.8 256.7l3.0 -4.4M592.0 272.7L607.2 271.5l2.9 -4.4M603.8 271.8l2.9 -4.4M592.0 287.9L607.1 286.6l2.9 -4.4M603.8 286.9l2.9 -4.4M592.0 303.1L607.2 302.4l3.1 -4.3M603.8 302.6l3.1 -4.3M592.0 318.3L607.2 318.4l3.3 -4.2M603.8 318.3l3.3 -4.2M592.0 333.5L607.2 334.3l3.5 -4.0M603.8 334.1l2.1 -2.4M592.0 348.7L607.1 350.3l3.7 -3.8M603.7 349.9l2.2 -2.3M592.0 363.9L607.0 366.2l3.9 -3.6M603.7 365.7l2.3 -2.2M592.0 379.1L607.1 380.8l3.7 -3.8M603.7 380.4l2.2 -2.3M592.0 394.3L607.2 394.0l3.2 -4.2M603.8 394.1l1.9 -2.6M592.0 409.5L607.0 406.9l2.5 -4.7M603.6 407.5l1.5 -2.8M592.0 424.7L606.4 419.8l1.8 -5.0M592.0 439.9L605.6 433.2l1.1 -5.2M592.0 455.1L605.0 447.2l0.6 -5.3M592.0 470.3L589.4 455.3l-4.7 -2.5M590.0 458.7l-2.8 -1.5M592.0 485.5L589.4 470.5l-4.7 -2.5M590.0 473.9l-2.8 -1.5M592.0 500.7L589.4 485.7l-4.7 -2.5M590.0 489.1l-2.8 -1.5M592.0 515.9L589.4 500.9l-4.7 -2.5M590.0 504.3l-2.8 -1.5M611.0 59.9L625.7 63.8l2.1 4.9M611.0 75.1L625.9 78.2l2.4 4.7M611.0 90.3L626.0 92.6l2.6 4.6M611.0 105.5L626.1 107.0l2.8 4.5M611.0 120.7L626.2 121.5l3.0 4.3M611.0 135.9L626.2 136.2l3.4 -4.1M611.0 151.1L626.2 151.2l3.3 -4.2M611.0 166.3L626.2 166.1l3.2 -4.2M611.0 181.5L626.2 181.0l3.1 -4.3M611.0 196.7L626.2 196.0l3.1 -4.3M611.0 211.9L626.2 210.9l3.0 -4.4M622.8 211.1l1.8 -2.6M611.0 227.1L626.2 226.0l3.0 -4.4M622.8 226.3l1.8 -2.7M611.0 242.3L626.2 241.2l2.9 -4.4M622.8 241.4l1.8 -2.7M611.0 257.5L626.2 256.3l2.9 -4.4M622.8 256.6l1.8 -2.7M611.0 272.7L626.1 271.4l2.9 -4.4M622.8 271.7l2.9 -4.4M611.0 287.9L626.1 286.6l2.9 -4.4M622.8 286.9l2.9 -4.4M611.0 303.1L626.2 302.5l3.1 -4.3M622.8 302.6l3.1 -4.3M611.0 318.3L626.2 318.6l3.3 -4.1M622.8 318.5l2.0 -2.5M611.0 333.5L626.2 334.7l3.6 -3.9M622.8 334.4l2.2 -2.4M611.0 348.7L626.1 350.8l3.8 -3.7M622.7 350.3l2.3 -2.2M611.0 363.9L625.9 366.8l4.0 -3.5M622.6 366.2l2.4 -2.1M611.0 379.1L626.0 381.4l3.9 -3.6M611.0 394.3L626.2 394.5l3.3 -4.1M611.0 409.5L626.0 407.2l2.6 -4.6M611.0 424.7L625.4 420.0l1.8 -5.0M611.0 439.9L624.7 433.2l1.1 -5.2M611.0 455.1L624.0 447.2l0.6 -5.3M611.0 470.3L608.4 455.3l-4.7 -2.5M609.0 458.7l-2.8 -1.5M611.0 485.5L608.4 470.5l-4.7 -2.5M609.0 473.9l-2.8 -1.5M611.0 500.7L608.4 485.7l-4.7 -2.5M609.0 489.1l-2.8 -1.5M611.0 515.9L608.4 500.9l-4.7 -2.5M609.0 504.3l-2.8 -1.5" fill="none" stroke="#000" stroke-width="1" shape-rendering="crispEdges" clip-path="url(#mapclip)"/>
<g clip-path="url(#mapclip)" fill="none" stroke="#000" stroke-linejoin="round">
<path d="M526.0 53.0L530.0 58.0L538.0 64.0L544.0 68.0L546.0 76.0L548.0 84.0L546.0 96.0L544.0 104.0L540.0 110.0L543.0 116.0L540.0 124.0L539.0 130.0L536.0 138.0L531.0 143.0L534.0 150.0L537.0 158.0L540.0 164.0L546.0 172.0L552.0 178.0L556.0 181.0L564.0 188.0L572.0 196.0L579.0 205.0L583.0 213.0L586.0 222.0L588.0 230.0L591.0 238.0L596.0 248.0L600.0 260.0L603.0 268.0L600.0 276.0L602.0 288.0L606.0 296.0L611.0 302.0L612.0 310.0L608.0 322.0L600.0 332.0L594.0 342.0L589.0 354.0L585.0 368.0L580.0 380.0L577.0 390.0L576.0 402.0L577.0 414.0L580.0 424.0L585.0 432.0L590.0 440.0L596.0 450.0L602.0 460.0L608.0 470.0L614.0 480.0L620.0 488.0L621.0 500.0L620.0 510.0L622.0 520.0L627.0 528.0M478.0 52.0L482.0 58.0L490.0 63.0L498.0 60.0L504.0 56.0L510.0 58.0L518.0 57.0L526.0 53.0M546.0 96.0L574.0 96.4L600.0 94.5L602.0 98.0L630.0 97.0M574.0 96.0L574.0 115.0L544.0 115.0M601.0 98.0L602.0 108.0L606.0 111.0L616.0 109.0L622.0 111.0L621.0 118.0L616.0 126.0L614.0 134.0L618.0 138.0L623.0 140.0L624.0 150.0L621.0 162.0L618.0 170.0L612.0 168.0L604.0 167.0L599.0 164.0L592.0 161.0L590.0 168.0L582.0 170.0L577.0 170.0L578.0 176.0L582.0 180.0L584.0 184.0L580.0 191.0L574.0 188.0L567.0 192.0M583.0 212.0L590.0 206.0L596.0 202.0L602.0 208.0L608.0 206.0L614.0 200.0L620.0 202.0L624.0 212.0L630.0 208.0M587.0 228.0L600.0 225.0L608.0 222.0L614.0 225.0L630.0 226.0M577.0 404.0L586.0 405.0L600.0 402.0L608.0 404.0L614.0 408.0L620.0 408.0L630.0 406.0M250.0 52.0L274.0 61.0L296.0 52.0M271.0 52.0L271.0 59.0M350.0 51.0L358.0 56.0L368.0 51.0" stroke-width="2.6"/>
<ellipse cx="530" cy="73" rx="3.6" ry="5" transform="rotate(25 530 73)" stroke-width="2"/>
<ellipse cx="496" cy="126" rx="2.8" ry="3.2" stroke-width="1.8"/>
<circle cx="508" cy="104" r="2.2" fill="#000" stroke="none"/>
<circle cx="481" cy="153" r="1.6" fill="#000" stroke="none"/>
<path d="M541 125l7 2v4l-7 -2z" fill="#000" stroke="none"/>
<path d="M620.5 492v9h3.5v-9" stroke-width="1.4"/>
<circle cx="185.6" cy="432" r="2" stroke-width="1"/>
<path d="M162.0 249.5L164.1 255.6L170.6 255.7L165.4 259.6L167.3 265.8L162.0 262.1L156.7 265.8L158.6 259.6L153.4 255.7L159.9 255.6ZM300.0 377.5L302.1 383.6L308.6 383.7L303.4 387.6L305.3 393.8L300.0 390.1L294.7 393.8L296.6 387.6L291.4 383.7L297.9 383.6Z" stroke-width="2.4" stroke-linejoin="miter"/>
</g>
<path d="M72.2 34.5V52M72.2 528V547.5" stroke="#000" stroke-width="3.5"/>
<path d="M104.1 42.5V50M104.1 531V538.7" stroke="#000" stroke-width="2"/>
<path d="M136.0 42.5V50M136.0 531V538.7" stroke="#000" stroke-width="2"/>
<path d="M167.9 42.5V50M167.9 531V538.7" stroke="#000" stroke-width="2"/>
<path d="M199.8 42.5V50M199.8 531V538.7" stroke="#000" stroke-width="2"/>
<path d="M231.7 34.5V52M231.7 528V547.5" stroke="#000" stroke-width="3.5"/>
<path d="M263.6 42.5V50M263.6 531V538.7" stroke="#000" stroke-width="2"/>
<path d="M295.5 42.5V50M295.5 531V538.7" stroke="#000" stroke-width="2"/>
<path d="M327.4 42.5V50M327.4 531V538.7" stroke="#000" stroke-width="2"/>
<path d="M359.3 42.5V50M359.3 531V538.7" stroke="#000" stroke-width="2"/>
<path d="M391.2 34.5V52M391.2 528V547.5" stroke="#000" stroke-width="3.5"/>
<path d="M423.1 42.5V50M423.1 531V538.7" stroke="#000" stroke-width="2"/>
<path d="M455.0 42.5V50M455.0 531V538.7" stroke="#000" stroke-width="2"/>
<path d="M486.9 42.5V50M486.9 531V538.7" stroke="#000" stroke-width="2"/>
<path d="M518.8 42.5V50M518.8 531V538.7" stroke="#000" stroke-width="2"/>
<path d="M550.7 34.5V52M550.7 528V547.5" stroke="#000" stroke-width="3.5"/>
<path d="M582.6 42.5V50M582.6 531V538.7" stroke="#000" stroke-width="2"/>
<path d="M614.5 42.5V50M614.5 531V538.7" stroke="#000" stroke-width="2"/>
<path d="M63.5 513.3H71M632 513.3H639.8" stroke="#000" stroke-width="1.8"/>
<path d="M63.5 481.4H71M632 481.4H639.8" stroke="#000" stroke-width="1.8"/>
<path d="M54.5 449.5H72M631 449.5H648" stroke="#000" stroke-width="3.2"/>
<path d="M63.5 417.6H71M632 417.6H639.8" stroke="#000" stroke-width="1.8"/>
<path d="M63.5 385.7H71M632 385.7H639.8" stroke="#000" stroke-width="1.8"/>
<path d="M63.5 353.8H71M632 353.8H639.8" stroke="#000" stroke-width="1.8"/>
<path d="M63.5 321.9H71M632 321.9H639.8" stroke="#000" stroke-width="1.8"/>
<path d="M54.5 290.0H72M631 290.0H648" stroke="#000" stroke-width="3.2"/>
<path d="M63.5 258.1H71M632 258.1H639.8" stroke="#000" stroke-width="1.8"/>
<path d="M63.5 226.2H71M632 226.2H639.8" stroke="#000" stroke-width="1.8"/>
<path d="M63.5 194.3H71M632 194.3H639.8" stroke="#000" stroke-width="1.8"/>
<path d="M63.5 162.4H71M632 162.4H639.8" stroke="#000" stroke-width="1.8"/>
<path d="M54.5 130.5H72M631 130.5H648" stroke="#000" stroke-width="3.2"/>
<path d="M63.5 98.6H71M632 98.6H639.8" stroke="#000" stroke-width="1.8"/>
<path d="M63.5 66.7H71M632 66.7H639.8" stroke="#000" stroke-width="1.8"/>
<rect x="72.2" y="50.75" width="558.3" height="479.15" fill="none" stroke="#000" stroke-width="3.6"/>
<rect x="78" y="595" width="42" height="42" fill="#ffffff" shape-rendering="crispEdges"/>
<rect x="120" y="595" width="42" height="42" fill="#ababff" shape-rendering="crispEdges"/>
<rect x="162" y="595" width="42" height="42" fill="#5858ff" shape-rendering="crispEdges"/>
<rect x="204" y="595" width="42" height="42" fill="#0000ff" shape-rendering="crispEdges"/>
<rect x="246" y="595" width="42" height="42" fill="#0038b4" shape-rendering="crispEdges"/>
<rect x="288" y="595" width="42" height="42" fill="#08745f" shape-rendering="crispEdges"/>
<rect x="330" y="595" width="42" height="42" fill="#09aa18" shape-rendering="crispEdges"/>
<rect x="372" y="595" width="42" height="42" fill="#54c70b" shape-rendering="crispEdges"/>
<rect x="414" y="595" width="42" height="42" fill="#a6e108" shape-rendering="crispEdges"/>
<rect x="456" y="595" width="42" height="42" fill="#f5f800" shape-rendering="crispEdges"/>
<rect x="498" y="595" width="42" height="42" fill="#ffb900" shape-rendering="crispEdges"/>
<rect x="540" y="595" width="42" height="42" fill="#ff5d00" shape-rendering="crispEdges"/>
<rect x="582" y="595" width="42" height="42" fill="#ff0900" shape-rendering="crispEdges"/>
<path d="M121.0 595V637" stroke="#000" stroke-width="2"/>
<path d="M162.9 595V637" stroke="#000" stroke-width="2"/>
<path d="M204.8 595V637" stroke="#000" stroke-width="2"/>
<path d="M246.7 595V637" stroke="#000" stroke-width="2"/>
<path d="M288.6 595V637" stroke="#000" stroke-width="2"/>
<path d="M330.5 595V637" stroke="#000" stroke-width="2"/>
<path d="M372.4 595V637" stroke="#000" stroke-width="2"/>
<path d="M414.3 595V637" stroke="#000" stroke-width="2"/>
<path d="M456.2 595V637" stroke="#000" stroke-width="2"/>
<path d="M498.1 595V637" stroke="#000" stroke-width="2"/>
<path d="M540.0 595V637" stroke="#000" stroke-width="2"/>
<path d="M581.9 595V637" stroke="#000" stroke-width="2"/>
<path d="M78 595H625" stroke="#000" stroke-width="2.2"/>
<path d="M78 637.2H625" stroke="#000" stroke-width="3"/>
<path d="M79 594V638.7M624.4 594V638.7" stroke="#000" stroke-width="2"/>
<text x="71.4" y="25.7" font-size="27" text-anchor="start" textLength="208.5" lengthAdjust="spacingAndGlyphs" stroke-width="1.1">550nm Extinction</text>
<text x="75.5" y="43.8" font-size="21" text-anchor="start" textLength="67" lengthAdjust="spacingAndGlyphs" >(1/Mm)</text>
<text x="631.5" y="21.5" font-size="27" text-anchor="end" textLength="185.5" lengthAdjust="spacingAndGlyphs" stroke-width="1.1">2018-09-28_18</text>
<text x="631" y="48.2" font-size="21" text-anchor="end" textLength="81.5" lengthAdjust="spacingAndGlyphs" >700 hPa</text>
<text x="40.8" y="138.5" font-size="22" text-anchor="end" >0</text>
<text x="40.8" y="298.5" font-size="22" text-anchor="end" textLength="37" lengthAdjust="spacingAndGlyphs" >10S</text>
<text x="40.8" y="458" font-size="22" text-anchor="end" >20S</text>
<text x="71.5" y="578.6" font-size="22" text-anchor="middle" >20W</text>
<text x="231.5" y="578.6" font-size="22" text-anchor="middle" textLength="43" lengthAdjust="spacingAndGlyphs" >10W</text>
<text x="391" y="578.6" font-size="22" text-anchor="middle" >0</text>
<text x="551.2" y="578.6" font-size="22" text-anchor="middle" textLength="37" lengthAdjust="spacingAndGlyphs" >10E</text>
<text x="121.6" y="666" font-size="22" text-anchor="middle" >2</text>
<text x="205.39999999999998" y="666" font-size="22" text-anchor="middle" >10</text>
<text x="289.20000000000005" y="666" font-size="22" text-anchor="middle" >50</text>
<text x="373.0" y="666" font-size="22" text-anchor="middle" >200</text>
<text x="456.79999999999995" y="666" font-size="22" text-anchor="middle" >400</text>
<text x="540.6" y="666" font-size="22" text-anchor="middle" >600</text>
</svg>
</body></html>
